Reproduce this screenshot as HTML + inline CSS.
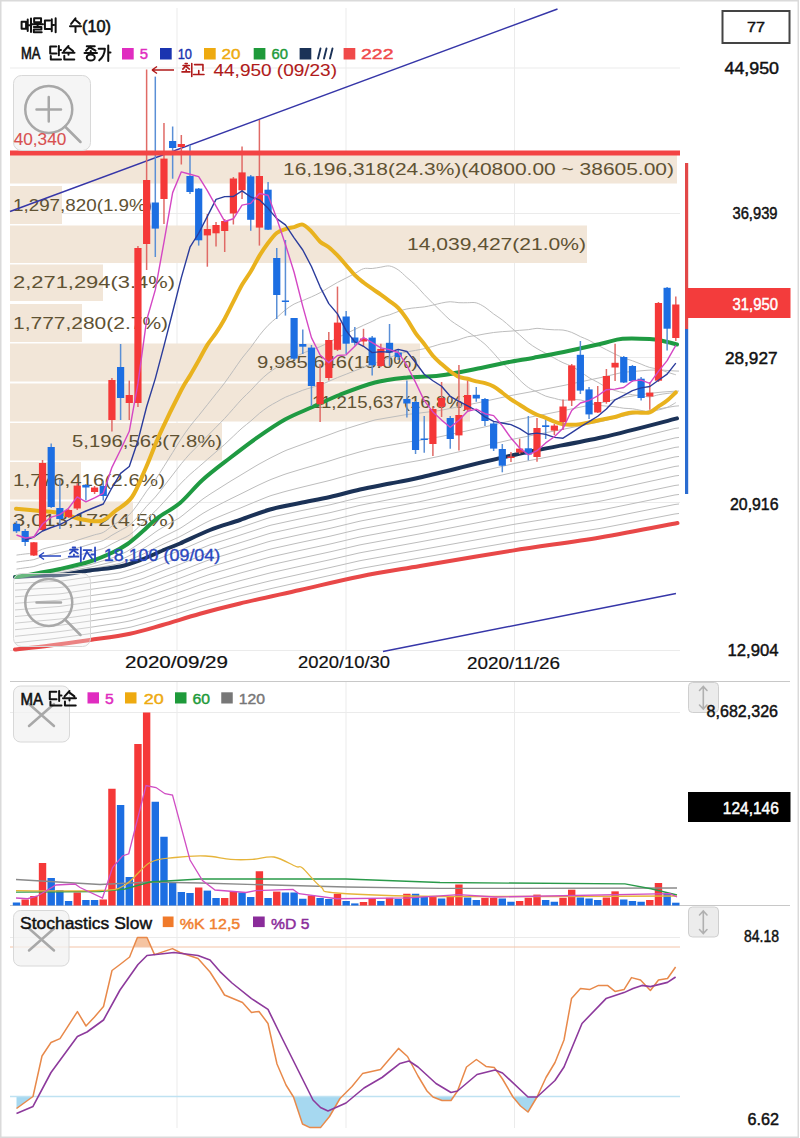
<!DOCTYPE html><html><head><meta charset="utf-8"><style>html,body{margin:0;padding:0;background:#fff;width:800px;height:1138px;overflow:hidden}</style></head><body><svg width="800" height="1138" viewBox="0 0 800 1138" style="display:block;font-family:'Liberation Sans',sans-serif">
<rect x="0" y="0" width="800" height="1138" fill="#fff"/>
<line x1="10" y1="68" x2="680" y2="68" stroke="#ebebeb" stroke-width="1"/>
<line x1="10" y1="213.5" x2="680" y2="213.5" stroke="#ebebeb" stroke-width="1"/>
<line x1="10" y1="357.5" x2="680" y2="357.5" stroke="#ebebeb" stroke-width="1"/>
<line x1="10" y1="502.5" x2="680" y2="502.5" stroke="#ebebeb" stroke-width="1"/>
<line x1="10" y1="650.5" x2="680" y2="650.5" stroke="#ebebeb" stroke-width="1"/>
<line x1="177" y1="8" x2="177" y2="650.5" stroke="#ebebeb" stroke-width="1"/>
<line x1="177" y1="682" x2="177" y2="1128" stroke="#ebebeb" stroke-width="1"/>
<line x1="346" y1="8" x2="346" y2="650.5" stroke="#ebebeb" stroke-width="1"/>
<line x1="346" y1="682" x2="346" y2="1128" stroke="#ebebeb" stroke-width="1"/>
<line x1="514.5" y1="8" x2="514.5" y2="650.5" stroke="#ebebeb" stroke-width="1"/>
<line x1="514.5" y1="682" x2="514.5" y2="1128" stroke="#ebebeb" stroke-width="1"/>
<line x1="10" y1="712.5" x2="680" y2="712.5" stroke="#ebebeb" stroke-width="1"/>
<line x1="10" y1="937.5" x2="680" y2="937.5" stroke="#ebebeb" stroke-width="1"/>
<rect x="10" y="155" width="667" height="28.5" fill="#f2e6d8"/>
<rect x="10" y="186" width="52" height="38" fill="#f2e6d8"/>
<rect x="10" y="225.5" width="577" height="37.5" fill="#f2e6d8"/>
<rect x="10" y="264.5" width="93" height="36.5" fill="#f2e6d8"/>
<rect x="10" y="304" width="72" height="38" fill="#f2e6d8"/>
<rect x="10" y="343.5" width="410" height="38" fill="#f2e6d8"/>
<rect x="10" y="383.5" width="460" height="38" fill="#f2e6d8"/>
<rect x="10" y="423" width="212" height="37.5" fill="#f2e6d8"/>
<rect x="10" y="462" width="71" height="37.5" fill="#f2e6d8"/>
<rect x="10" y="501.5" width="123" height="38.5" fill="#f2e6d8"/>
<text x="283" y="174.75" font-size="17" fill="#5f5233" text-anchor="start" font-weight="normal" textLength="391" lengthAdjust="spacingAndGlyphs" >16,196,318(24.3%)(40800.00 ~ 38605.00)</text>
<text x="13" y="210.5" font-size="17" fill="#5f5233" text-anchor="start" font-weight="normal" textLength="139" lengthAdjust="spacingAndGlyphs" >1,297,820(1.9%)</text>
<text x="407" y="249.75" font-size="17" fill="#5f5233" text-anchor="start" font-weight="normal" textLength="179" lengthAdjust="spacingAndGlyphs" >14,039,427(21.0%)</text>
<text x="13" y="288.25" font-size="17" fill="#5f5233" text-anchor="start" font-weight="normal" textLength="162" lengthAdjust="spacingAndGlyphs" >2,271,294(3.4%)</text>
<text x="13" y="328.5" font-size="17" fill="#5f5233" text-anchor="start" font-weight="normal" textLength="155" lengthAdjust="spacingAndGlyphs" >1,777,280(2.7%)</text>
<text x="257" y="368" font-size="17" fill="#5f5233" text-anchor="start" font-weight="normal" textLength="161" lengthAdjust="spacingAndGlyphs" >9,985,646(15.0%)</text>
<text x="312" y="408" font-size="17" fill="#5f5233" text-anchor="start" font-weight="normal" textLength="157" lengthAdjust="spacingAndGlyphs" >11,215,637(16.8%)</text>
<text x="72" y="447.25" font-size="17" fill="#5f5233" text-anchor="start" font-weight="normal" textLength="150" lengthAdjust="spacingAndGlyphs" >5,196,563(7.8%)</text>
<text x="13" y="486.25" font-size="17" fill="#5f5233" text-anchor="start" font-weight="normal" textLength="152" lengthAdjust="spacingAndGlyphs" >1,776,416(2.6%)</text>
<text x="13" y="526.25" font-size="17" fill="#5f5233" text-anchor="start" font-weight="normal" textLength="162" lengthAdjust="spacingAndGlyphs" >3,013,172(4.5%)</text>
<path d="M15,583.59 L19,583.36 L23,583.12 L27,582.88 L31,582.65 L35,582.41 L39,582.18 L43,581.94 L47,581.76 L51,581.61 L55,581.47 L59,581.32 L63,580.84 L67,580.24 L71,579.65 L75,579.05 L79,578.46 L83,577.86 L87,577.26 L91,576.68 L95,576.14 L99,575.6 L103,575.06 L107,574.52 L111,573.97 L115,573.43 L119,572.89 L123,571.83 L127,570.61 L131,569.37 L135,568.1 L139,566.83 L143,565.51 L147,563.83 L151,562.16 L155,560.49 L159,558.81 L163,557.14 L167,555.51 L171,553.95 L175,552.39 L179,550.82 L183,549.12 L187,547.38 L191,545.63 L195,543.89 L199,542.14 L203,540.41 L207,538.68 L211,537.05 L215,535.75 L219,534.44 L223,533.14 L227,531.83 L231,530.53 L235,529.22 L239,527.92 L243,526.58 L247,525.22 L251,523.87 L255,522.51 L259,521.16 L263,519.8 L267,518.45 L271,517.21 L275,516.34 L279,515.48 L283,514.61 L287,513.74 L291,512.87 L295,512 L299,511.13 L303,510.3 L307,509.49 L311,508.68 L315,507.87 L319,507.07 L323,506.26 L327,505.45 L331,504.59 L335,503.6 L339,502.61 L343,501.62 L347,500.63 L351,499.64 L355,498.65 L359,497.66 L363,496.82 L367,496.02 L371,495.23 L375,494.44 L379,493.65 L383,492.86 L387,492.07 L391,491.28 L395,490.49 L399,489.7 L403,488.91 L407,488.12 L411,487.33 L415,486.53 L419,485.74 L423,484.85 L427,483.91 L431,482.98 L435,482.05 L439,481.11 L443,480.18 L447,479.25 L451,478.31 L455,477.38 L459,476.45 L463,475.51 L467,474.58 L471,473.65 L475,472.71 L479,471.78 L483,470.85 L487,469.91 L491,468.98 L495,468.05 L499,467.11 L503,466.18 L507,465.25 L511,464.31 L515,463.38 L519,462.6 L523,461.82 L527,461.04 L531,460.26 L535,459.48 L539,458.69 L543,457.91 L547,457.13 L551,456.35 L555,455.57 L559,454.79 L563,454 L567,453.22 L571,452.44 L575,451.66 L579,450.88 L583,450.1 L587,449.31 L591,448.53 L595,447.75 L599,446.97 L603,446.15 L607,445.17 L611,444.18 L615,443.2 L619,442.21 L623,441.22 L627,440.24 L631,439.25 L635,438.27 L639,437.28 L643,436.3 L647,435.31 L651,434.32 L655,433.34 L659,432.35 L663,431.37 L667,430.38 L671,429.4 L675,428.41 L679,427.91" fill="none" stroke="#bdbdbd" stroke-width="1"/>
<path d="M15,590.18 L19,589.92 L23,589.67 L27,589.41 L31,589.15 L35,588.89 L39,588.64 L43,588.38 L47,588.16 L51,587.99 L55,587.8 L59,587.62 L63,587.12 L67,586.53 L71,585.94 L75,585.35 L79,584.76 L83,584.17 L87,583.58 L91,583 L95,582.45 L99,581.9 L103,581.35 L107,580.8 L111,580.25 L115,579.7 L119,579.15 L123,578.14 L127,576.97 L131,575.78 L135,574.53 L139,573.28 L143,571.98 L147,570.37 L151,568.75 L155,567.14 L159,565.53 L163,563.91 L167,562.33 L171,560.8 L175,559.27 L179,557.75 L183,556.1 L187,554.4 L191,552.71 L195,551.02 L199,549.33 L203,547.66 L207,546.01 L211,544.44 L215,543.16 L219,541.89 L223,540.61 L227,539.33 L231,538.06 L235,536.78 L239,535.5 L243,534.2 L247,532.89 L251,531.58 L255,530.27 L259,528.96 L263,527.65 L267,526.35 L271,525.15 L275,524.27 L279,523.4 L283,522.53 L287,521.65 L291,520.78 L295,519.91 L299,519.04 L303,518.2 L307,517.39 L311,516.57 L315,515.75 L319,514.93 L323,514.11 L327,513.3 L331,512.44 L335,511.45 L339,510.47 L343,509.49 L347,508.51 L351,507.53 L355,506.55 L359,505.56 L363,504.73 L367,503.95 L371,503.17 L375,502.39 L379,501.6 L383,500.82 L387,500.04 L391,499.26 L395,498.48 L399,497.7 L403,496.91 L407,496.13 L411,495.35 L415,494.57 L419,493.79 L423,492.91 L427,492 L431,491.1 L435,490.19 L439,489.28 L443,488.38 L447,487.47 L451,486.57 L455,485.66 L459,484.75 L463,483.85 L467,482.94 L471,482.03 L475,481.13 L479,480.22 L483,479.31 L487,478.41 L491,477.5 L495,476.59 L499,475.69 L503,474.78 L507,473.87 L511,472.97 L515,472.07 L519,471.3 L523,470.54 L527,469.78 L531,469.01 L535,468.25 L539,467.49 L543,466.72 L547,465.96 L551,465.2 L555,464.43 L559,463.67 L563,462.91 L567,462.14 L571,461.38 L575,460.62 L579,459.85 L583,459.09 L587,458.33 L591,457.56 L595,456.8 L599,456.04 L603,455.23 L607,454.27 L611,453.31 L615,452.35 L619,451.38 L623,450.42 L627,449.46 L631,448.5 L635,447.54 L639,446.57 L643,445.61 L647,444.65 L651,443.69 L655,442.73 L659,441.76 L663,440.8 L667,439.84 L671,438.88 L675,437.92 L679,437.42" fill="none" stroke="#bdbdbd" stroke-width="1"/>
<path d="M15,596.77 L19,596.49 L23,596.21 L27,595.93 L31,595.65 L35,595.37 L39,595.09 L43,594.81 L47,594.57 L51,594.36 L55,594.14 L59,593.91 L63,593.41 L67,592.83 L71,592.24 L75,591.65 L79,591.07 L83,590.48 L87,589.89 L91,589.31 L95,588.76 L99,588.2 L103,587.64 L107,587.08 L111,586.52 L115,585.96 L119,585.41 L123,584.44 L127,583.33 L131,582.19 L135,580.96 L139,579.73 L143,578.46 L147,576.9 L151,575.35 L155,573.79 L159,572.24 L163,570.68 L167,569.14 L171,567.65 L175,566.16 L179,564.67 L183,563.07 L187,561.43 L191,559.8 L195,558.16 L199,556.52 L203,554.92 L207,553.33 L211,551.83 L215,550.58 L219,549.33 L223,548.08 L227,546.83 L231,545.58 L235,544.33 L239,543.09 L243,541.83 L247,540.56 L251,539.3 L255,538.03 L259,536.77 L263,535.51 L267,534.24 L271,533.08 L275,532.2 L279,531.33 L283,530.45 L287,529.57 L291,528.7 L295,527.82 L299,526.95 L303,526.11 L307,525.28 L311,524.45 L315,523.62 L319,522.8 L323,521.97 L327,521.14 L331,520.28 L335,519.31 L339,518.33 L343,517.36 L347,516.39 L351,515.42 L355,514.44 L359,513.47 L363,512.65 L367,511.87 L371,511.1 L375,510.33 L379,509.56 L383,508.78 L387,508.01 L391,507.24 L395,506.47 L399,505.69 L403,504.92 L407,504.15 L411,503.38 L415,502.6 L419,501.83 L423,500.98 L427,500.1 L431,499.22 L435,498.34 L439,497.46 L443,496.58 L447,495.7 L451,494.82 L455,493.94 L459,493.06 L463,492.18 L467,491.3 L471,490.42 L475,489.54 L479,488.66 L483,487.78 L487,486.9 L491,486.02 L495,485.14 L499,484.26 L503,483.38 L507,482.5 L511,481.62 L515,480.75 L519,480.01 L523,479.26 L527,478.52 L531,477.77 L535,477.03 L539,476.28 L543,475.54 L547,474.79 L551,474.05 L555,473.3 L559,472.56 L563,471.81 L567,471.07 L571,470.32 L575,469.58 L579,468.83 L583,468.09 L587,467.34 L591,466.59 L595,465.85 L599,465.1 L603,464.31 L607,463.37 L611,462.43 L615,461.5 L619,460.56 L623,459.62 L627,458.68 L631,457.74 L635,456.8 L639,455.87 L643,454.93 L647,453.99 L651,453.05 L655,452.11 L659,451.17 L663,450.24 L667,449.3 L671,448.36 L675,447.42 L679,446.93" fill="none" stroke="#bdbdbd" stroke-width="1"/>
<path d="M15,603.36 L19,603.06 L23,602.76 L27,602.46 L31,602.16 L35,601.85 L39,601.55 L43,601.25 L47,600.98 L51,600.74 L55,600.47 L59,600.2 L63,599.7 L67,599.12 L71,598.54 L75,597.95 L79,597.37 L83,596.79 L87,596.21 L91,595.63 L95,595.06 L99,594.5 L103,593.93 L107,593.36 L111,592.8 L115,592.23 L119,591.66 L123,590.74 L127,589.69 L131,588.6 L135,587.39 L139,586.18 L143,584.93 L147,583.44 L151,581.94 L155,580.45 L159,578.95 L163,577.45 L167,575.95 L171,574.5 L175,573.05 L179,571.59 L183,570.04 L187,568.46 L191,566.88 L195,565.3 L199,563.71 L203,562.18 L207,560.66 L211,559.22 L215,558 L219,556.77 L223,555.55 L227,554.33 L231,553.11 L235,551.89 L239,550.67 L243,549.45 L247,548.23 L251,547.01 L255,545.8 L259,544.58 L263,543.36 L267,542.14 L271,541.01 L275,540.13 L279,539.25 L283,538.37 L287,537.49 L291,536.61 L295,535.73 L299,534.86 L303,534.01 L307,533.17 L311,532.34 L315,531.5 L319,530.66 L323,529.83 L327,528.99 L331,528.12 L335,527.16 L339,526.2 L343,525.23 L347,524.27 L351,523.3 L355,522.34 L359,521.38 L363,520.56 L367,519.8 L371,519.04 L375,518.27 L379,517.51 L383,516.75 L387,515.98 L391,515.22 L395,514.45 L399,513.69 L403,512.93 L407,512.16 L411,511.4 L415,510.64 L419,509.87 L423,509.04 L427,508.19 L431,507.34 L435,506.48 L439,505.63 L443,504.78 L447,503.92 L451,503.07 L455,502.22 L459,501.36 L463,500.51 L467,499.66 L471,498.81 L475,497.95 L479,497.1 L483,496.25 L487,495.39 L491,494.54 L495,493.69 L499,492.83 L503,491.98 L507,491.13 L511,490.27 L515,489.44 L519,488.71 L523,487.98 L527,487.26 L531,486.53 L535,485.8 L539,485.08 L543,484.35 L547,483.62 L551,482.89 L555,482.17 L559,481.44 L563,480.71 L567,479.99 L571,479.26 L575,478.53 L579,477.81 L583,477.08 L587,476.35 L591,475.63 L595,474.9 L599,474.17 L603,473.39 L607,472.47 L611,471.56 L615,470.64 L619,469.73 L623,468.82 L627,467.9 L631,466.99 L635,466.07 L639,465.16 L643,464.24 L647,463.33 L651,462.41 L655,461.5 L659,460.59 L663,459.67 L667,458.76 L671,457.84 L675,456.93 L679,456.44" fill="none" stroke="#bdbdbd" stroke-width="1"/>
<path d="M15,609.95 L19,609.63 L23,609.31 L27,608.98 L31,608.66 L35,608.33 L39,608.01 L43,607.69 L47,607.39 L51,607.11 L55,606.81 L59,606.5 L63,605.99 L67,605.41 L71,604.83 L75,604.26 L79,603.68 L83,603.1 L87,602.52 L91,601.95 L95,601.37 L99,600.8 L103,600.22 L107,599.65 L111,599.07 L115,598.5 L119,597.92 L123,597.04 L127,596.05 L131,595.01 L135,593.82 L139,592.63 L143,591.4 L147,589.97 L151,588.53 L155,587.1 L159,585.66 L163,584.22 L167,582.77 L171,581.35 L175,579.93 L179,578.51 L183,577.01 L187,575.49 L191,573.96 L195,572.43 L199,570.9 L203,569.44 L207,567.99 L211,566.61 L215,565.41 L219,564.22 L223,563.03 L227,561.83 L231,560.64 L235,559.45 L239,558.25 L243,557.07 L247,555.9 L251,554.73 L255,553.56 L259,552.38 L263,551.21 L267,550.04 L271,548.94 L275,548.06 L279,547.17 L283,546.29 L287,545.41 L291,544.53 L295,543.65 L299,542.77 L303,541.91 L307,541.07 L311,540.22 L315,539.38 L319,538.53 L323,537.68 L327,536.84 L331,535.97 L335,535.01 L339,534.06 L343,533.1 L347,532.15 L351,531.19 L355,530.24 L359,529.28 L363,528.48 L367,527.72 L371,526.97 L375,526.22 L379,525.46 L383,524.71 L387,523.95 L391,523.2 L395,522.44 L399,521.69 L403,520.93 L407,520.18 L411,519.42 L415,518.67 L419,517.92 L423,517.11 L427,516.28 L431,515.45 L435,514.63 L439,513.8 L443,512.98 L447,512.15 L451,511.32 L455,510.5 L459,509.67 L463,508.84 L467,508.02 L471,507.19 L475,506.37 L479,505.54 L483,504.71 L487,503.89 L491,503.06 L495,502.23 L499,501.41 L503,500.58 L507,499.75 L511,498.93 L515,498.12 L519,497.41 L523,496.7 L527,496 L531,495.29 L535,494.58 L539,493.87 L543,493.16 L547,492.45 L551,491.74 L555,491.04 L559,490.33 L563,489.62 L567,488.91 L571,488.2 L575,487.49 L579,486.78 L583,486.08 L587,485.37 L591,484.66 L595,483.95 L599,483.24 L603,482.47 L607,481.58 L611,480.69 L615,479.79 L619,478.9 L623,478.01 L627,477.12 L631,476.23 L635,475.34 L639,474.45 L643,473.56 L647,472.67 L651,471.78 L655,470.89 L659,470 L663,469.11 L667,468.21 L671,467.32 L675,466.43 L679,465.95" fill="none" stroke="#bdbdbd" stroke-width="1"/>
<path d="M15,616.55 L19,616.2 L23,615.85 L27,615.51 L31,615.16 L35,614.81 L39,614.47 L43,614.12 L47,613.8 L51,613.49 L55,613.14 L59,612.79 L63,612.28 L67,611.7 L71,611.13 L75,610.56 L79,609.98 L83,609.41 L87,608.84 L91,608.26 L95,607.68 L99,607.1 L103,606.51 L107,605.93 L111,605.35 L115,604.76 L119,604.18 L123,603.34 L127,602.41 L131,601.42 L135,600.25 L139,599.08 L143,597.88 L147,596.5 L151,595.13 L155,593.75 L159,592.38 L163,590.99 L167,589.58 L171,588.2 L175,586.82 L179,585.44 L183,583.99 L187,582.51 L191,581.04 L195,579.57 L199,578.1 L203,576.69 L207,575.32 L211,573.99 L215,572.83 L219,571.66 L223,570.5 L227,569.33 L231,568.17 L235,567 L239,565.84 L243,564.7 L247,563.57 L251,562.45 L255,561.32 L259,560.19 L263,559.06 L267,557.94 L271,556.87 L275,555.98 L279,555.1 L283,554.22 L287,553.33 L291,552.45 L295,551.56 L299,550.68 L303,549.81 L307,548.96 L311,548.1 L315,547.25 L319,546.4 L323,545.54 L327,544.69 L331,543.81 L335,542.86 L339,541.92 L343,540.97 L347,540.03 L351,539.08 L355,538.14 L359,537.19 L363,536.4 L367,535.65 L371,534.9 L375,534.16 L379,533.41 L383,532.67 L387,531.92 L391,531.18 L395,530.43 L399,529.69 L403,528.94 L407,528.2 L411,527.45 L415,526.7 L419,525.96 L423,525.17 L427,524.37 L431,523.57 L435,522.77 L439,521.97 L443,521.17 L447,520.38 L451,519.58 L455,518.78 L459,517.98 L463,517.18 L467,516.38 L471,515.58 L475,514.78 L479,513.98 L483,513.18 L487,512.38 L491,511.58 L495,510.78 L499,509.98 L503,509.18 L507,508.38 L511,507.58 L515,506.8 L519,506.11 L523,505.42 L527,504.73 L531,504.04 L535,503.35 L539,502.66 L543,501.97 L547,501.28 L551,500.59 L555,499.9 L559,499.21 L563,498.52 L567,497.83 L571,497.14 L575,496.45 L579,495.76 L583,495.07 L587,494.38 L591,493.69 L595,493 L599,492.31 L603,491.55 L607,490.68 L611,489.81 L615,488.94 L619,488.08 L623,487.21 L627,486.34 L631,485.48 L635,484.61 L639,483.74 L643,482.88 L647,482.01 L651,481.14 L655,480.27 L659,479.41 L663,478.54 L667,477.67 L671,476.81 L675,475.94 L679,475.45" fill="none" stroke="#bdbdbd" stroke-width="1"/>
<path d="M15,623.14 L19,622.77 L23,622.4 L27,622.03 L31,621.66 L35,621.29 L39,620.93 L43,620.56 L47,620.21 L51,619.86 L55,619.47 L59,619.09 L63,618.56 L67,617.99 L71,617.43 L75,616.86 L79,616.29 L83,615.72 L87,615.15 L91,614.58 L95,613.99 L99,613.4 L103,612.8 L107,612.21 L111,611.62 L115,611.03 L119,610.44 L123,609.64 L127,608.77 L131,607.84 L135,606.68 L139,605.53 L143,604.35 L147,603.04 L151,601.72 L155,600.41 L159,599.09 L163,597.77 L167,596.4 L171,595.05 L175,593.7 L179,592.36 L183,590.96 L187,589.54 L191,588.12 L195,586.7 L199,585.29 L203,583.95 L207,582.64 L211,581.38 L215,580.24 L219,579.11 L223,577.97 L227,576.83 L231,575.69 L235,574.56 L239,573.42 L243,572.32 L247,571.24 L251,570.16 L255,569.08 L259,568 L263,566.92 L267,565.83 L271,564.8 L275,563.91 L279,563.03 L283,562.14 L287,561.25 L291,560.36 L295,559.47 L299,558.59 L303,557.72 L307,556.85 L311,555.99 L315,555.12 L319,554.26 L323,553.4 L327,552.53 L331,551.65 L335,550.72 L339,549.78 L343,548.84 L347,547.91 L351,546.97 L355,546.03 L359,545.1 L363,544.31 L367,543.57 L371,542.84 L375,542.1 L379,541.37 L383,540.63 L387,539.89 L391,539.16 L395,538.42 L399,537.68 L403,536.95 L407,536.21 L411,535.47 L415,534.74 L419,534 L423,533.24 L427,532.47 L431,531.69 L435,530.92 L439,530.15 L443,529.37 L447,528.6 L451,527.83 L455,527.06 L459,526.28 L463,525.51 L467,524.74 L471,523.96 L475,523.19 L479,522.42 L483,521.65 L487,520.87 L491,520.1 L495,519.33 L499,518.55 L503,517.78 L507,517.01 L511,516.24 L515,515.49 L519,514.82 L523,514.15 L527,513.47 L531,512.8 L535,512.13 L539,511.46 L543,510.79 L547,510.11 L551,509.44 L555,508.77 L559,508.1 L563,507.43 L567,506.75 L571,506.08 L575,505.41 L579,504.74 L583,504.07 L587,503.39 L591,502.72 L595,502.05 L599,501.38 L603,500.62 L607,499.78 L611,498.94 L615,498.09 L619,497.25 L623,496.41 L627,495.56 L631,494.72 L635,493.88 L639,493.03 L643,492.19 L647,491.35 L651,490.5 L655,489.66 L659,488.82 L663,487.97 L667,487.13 L671,486.29 L675,485.44 L679,484.96" fill="none" stroke="#bdbdbd" stroke-width="1"/>
<path d="M15,629.73 L19,629.34 L23,628.95 L27,628.56 L31,628.16 L35,627.77 L39,627.38 L43,626.99 L47,626.62 L51,626.24 L55,625.81 L59,625.38 L63,624.85 L67,624.29 L71,623.72 L75,623.16 L79,622.6 L83,622.03 L87,621.47 L91,620.9 L95,620.3 L99,619.7 L103,619.1 L107,618.5 L111,617.9 L115,617.3 L119,616.7 L123,615.94 L127,615.13 L131,614.25 L135,613.11 L139,611.98 L143,610.83 L147,609.57 L151,608.32 L155,607.06 L159,605.8 L163,604.54 L167,603.21 L171,601.9 L175,600.59 L179,599.28 L183,597.93 L187,596.57 L191,595.2 L195,593.84 L199,592.48 L203,591.21 L207,589.97 L211,588.77 L215,587.66 L219,586.55 L223,585.44 L227,584.33 L231,583.22 L235,582.11 L239,581 L243,579.95 L247,578.91 L251,577.88 L255,576.84 L259,575.8 L263,574.77 L267,573.73 L271,572.73 L275,571.84 L279,570.95 L283,570.06 L287,569.17 L291,568.28 L295,567.39 L299,566.5 L303,565.62 L307,564.75 L311,563.87 L315,563 L319,562.13 L323,561.25 L327,560.38 L331,559.5 L335,558.57 L339,557.64 L343,556.71 L347,555.79 L351,554.86 L355,553.93 L359,553 L363,552.23 L367,551.5 L371,550.77 L375,550.05 L379,549.32 L383,548.59 L387,547.86 L391,547.14 L395,546.41 L399,545.68 L403,544.95 L407,544.23 L411,543.5 L415,542.77 L419,542.05 L423,541.3 L427,540.56 L431,539.81 L435,539.07 L439,538.32 L443,537.57 L447,536.83 L451,536.08 L455,535.33 L459,534.59 L463,533.84 L467,533.1 L471,532.35 L475,531.6 L479,530.86 L483,530.11 L487,529.37 L491,528.62 L495,527.87 L499,527.13 L503,526.38 L507,525.64 L511,524.89 L515,524.17 L519,523.52 L523,522.87 L527,522.21 L531,521.56 L535,520.9 L539,520.25 L543,519.6 L547,518.94 L551,518.29 L555,517.64 L559,516.98 L563,516.33 L567,515.67 L571,515.02 L575,514.37 L579,513.71 L583,513.06 L587,512.41 L591,511.75 L595,511.1 L599,510.45 L603,509.7 L607,508.88 L611,508.06 L615,507.24 L619,506.42 L623,505.6 L627,504.79 L631,503.97 L635,503.15 L639,502.33 L643,501.51 L647,500.69 L651,499.87 L655,499.05 L659,498.23 L663,497.41 L667,496.59 L671,495.77 L675,494.95 L679,494.47" fill="none" stroke="#bdbdbd" stroke-width="1"/>
<path d="M15,636.32 L19,635.91 L23,635.49 L27,635.08 L31,634.67 L35,634.25 L39,633.84 L43,633.43 L47,633.03 L51,632.61 L55,632.14 L59,631.67 L63,631.14 L67,630.58 L71,630.02 L75,629.46 L79,628.9 L83,628.34 L87,627.78 L91,627.21 L95,626.6 L99,625.99 L103,625.39 L107,624.78 L111,624.17 L115,623.56 L119,622.95 L123,622.24 L127,621.5 L131,620.66 L135,619.54 L139,618.43 L143,617.3 L147,616.11 L151,614.91 L155,613.71 L159,612.52 L163,611.31 L167,610.02 L171,608.75 L175,607.48 L179,606.2 L183,604.9 L187,603.6 L191,602.29 L195,600.98 L199,599.67 L203,598.47 L207,597.3 L211,596.16 L215,595.07 L219,593.99 L223,592.91 L227,591.83 L231,590.75 L235,589.67 L239,588.59 L243,587.57 L247,586.58 L251,585.59 L255,584.6 L259,583.61 L263,582.62 L267,581.63 L271,580.66 L275,579.77 L279,578.88 L283,577.98 L287,577.09 L291,576.19 L295,575.3 L299,574.41 L303,573.52 L307,572.64 L311,571.76 L315,570.88 L319,569.99 L323,569.11 L327,568.23 L331,567.34 L335,566.42 L339,565.5 L343,564.58 L347,563.67 L351,562.75 L355,561.83 L359,560.91 L363,560.14 L367,559.42 L371,558.71 L375,557.99 L379,557.27 L383,556.55 L387,555.83 L391,555.12 L395,554.4 L399,553.68 L403,552.96 L407,552.24 L411,551.52 L415,550.81 L419,550.09 L423,549.37 L427,548.65 L431,547.93 L435,547.21 L439,546.49 L443,545.77 L447,545.05 L451,544.33 L455,543.61 L459,542.89 L463,542.18 L467,541.46 L471,540.74 L475,540.02 L479,539.3 L483,538.58 L487,537.86 L491,537.14 L495,536.42 L499,535.7 L503,534.98 L507,534.26 L511,533.54 L515,532.86 L519,532.22 L523,531.59 L527,530.95 L531,530.32 L535,529.68 L539,529.04 L543,528.41 L547,527.77 L551,527.14 L555,526.5 L559,525.87 L563,525.23 L567,524.6 L571,523.96 L575,523.33 L579,522.69 L583,522.06 L587,521.42 L591,520.78 L595,520.15 L599,519.51 L603,518.78 L607,517.99 L611,517.19 L615,516.39 L619,515.6 L623,514.8 L627,514.01 L631,513.21 L635,512.41 L639,511.62 L643,510.82 L647,510.03 L651,509.23 L655,508.44 L659,507.64 L663,506.84 L667,506.05 L671,505.25 L675,504.46 L679,503.98" fill="none" stroke="#bdbdbd" stroke-width="1"/>
<path d="M15,642.91 L19,642.47 L23,642.04 L27,641.6 L31,641.17 L35,640.73 L39,640.3 L43,639.86 L47,639.43 L51,638.99 L55,638.48 L59,637.97 L63,637.43 L67,636.87 L71,636.32 L75,635.76 L79,635.21 L83,634.65 L87,634.1 L91,633.53 L95,632.91 L99,632.29 L103,631.68 L107,631.06 L111,630.44 L115,629.83 L119,629.21 L123,628.54 L127,627.86 L131,627.07 L135,625.97 L139,624.88 L143,623.78 L147,622.64 L151,621.5 L155,620.37 L159,619.23 L163,618.08 L167,616.84 L171,615.6 L175,614.36 L179,613.13 L183,611.88 L187,610.62 L191,609.37 L195,608.11 L199,606.86 L203,605.72 L207,604.63 L211,603.54 L215,602.49 L219,601.44 L223,600.38 L227,599.33 L231,598.28 L235,597.23 L239,596.17 L243,595.2 L247,594.25 L251,593.31 L255,592.36 L259,591.42 L263,590.47 L267,589.53 L271,588.59 L275,587.7 L279,586.8 L283,585.9 L287,585.01 L291,584.11 L295,583.21 L299,582.32 L303,581.42 L307,580.53 L311,579.64 L315,578.75 L319,577.86 L323,576.97 L327,576.08 L331,575.18 L335,574.27 L339,573.36 L343,572.45 L347,571.55 L351,570.64 L355,569.73 L359,568.82 L363,568.06 L367,567.35 L371,566.64 L375,565.93 L379,565.22 L383,564.51 L387,563.8 L391,563.1 L395,562.39 L399,561.68 L403,560.97 L407,560.26 L411,559.55 L415,558.84 L419,558.13 L423,557.44 L427,556.74 L431,556.05 L435,555.36 L439,554.66 L443,553.97 L447,553.28 L451,552.59 L455,551.89 L459,551.2 L463,550.51 L467,549.82 L471,549.12 L475,548.43 L479,547.74 L483,547.04 L487,546.35 L491,545.66 L495,544.97 L499,544.27 L503,543.58 L507,542.89 L511,542.2 L515,541.54 L519,540.92 L523,540.31 L527,539.69 L531,539.07 L535,538.46 L539,537.84 L543,537.22 L547,536.6 L551,535.99 L555,535.37 L559,534.75 L563,534.14 L567,533.52 L571,532.9 L575,532.28 L579,531.67 L583,531.05 L587,530.43 L591,529.82 L595,529.2 L599,528.58 L603,527.86 L607,527.09 L611,526.32 L615,525.54 L619,524.77 L623,524 L627,523.23 L631,522.46 L635,521.68 L639,520.91 L643,520.14 L647,519.37 L651,518.59 L655,517.82 L659,517.05 L663,516.28 L667,515.51 L671,514.73 L675,513.96 L679,513.49" fill="none" stroke="#bdbdbd" stroke-width="1"/>
<path d="M15,577 L19,576.59 L23,576.07 L27,575.55 L31,575.02 L35,574.5 L39,573.98 L43,573.41 L47,572.87 L51,572.34 L55,571.82 L59,571.29 L63,570.52 L67,569.66 L71,568.81 L75,567.95 L79,567.09 L83,566.24 L87,565.38 L91,564.44 L95,563.22 L99,562 L103,560.79 L107,559.57 L111,558.36 L115,556.87 L119,555.23 L123,553.38 L127,551.47 L131,548.96 L135,546.36 L139,543.76 L143,541.12 L147,538.2 L151,535.27 L155,532.34 L159,529.64 L163,527.31 L167,525 L171,522.72 L175,520.43 L179,518.15 L183,515.13 L187,511.87 L191,508.6 L195,505.34 L199,502.07 L203,498.88 L207,496.18 L211,493.53 L215,491 L219,488.47 L223,485.94 L227,483.42 L231,480.92 L235,478.52 L239,476.13 L243,473.71 L247,471.29 L251,468.87 L255,466.44 L259,464.12 L263,461.95 L267,459.78 L271,457.65 L275,455.68 L279,453.7 L283,451.72 L287,449.99 L291,448.52 L295,447.04 L299,445.57 L303,444.11 L307,442.66 L311,441.2 L315,439.77 L319,438.34 L323,436.91 L327,435.48 L331,434.04 L335,432.54 L339,431.04 L343,429.72 L347,428.46 L351,427.21 L355,425.95 L359,424.69 L363,423.49 L367,422.31 L371,421.12 L375,419.94 L379,419.26 L383,418.58 L387,417.89 L391,417.21 L395,416.53 L399,415.85 L403,415.17 L407,414.49 L411,414.01 L415,413.56 L419,413.12 L423,412.63 L427,412.13 L431,411.62 L435,411.12 L439,410.62 L443,409.88 L447,409.07 L451,408.25 L455,407.44 L459,406.63 L463,405.81 L467,405 L471,404.18 L475,403.37 L479,402.56 L483,401.7 L487,400.81 L491,399.92 L495,399.03 L499,398.14 L503,397.24 L507,396.35 L511,395.54 L515,394.75 L519,394.01 L523,393.28 L527,392.54 L531,391.8 L535,391.06 L539,390.28 L543,389.5 L547,388.72 L551,387.94 L555,387.16 L559,386.39 L563,385.61 L567,384.77 L571,383.91 L575,383.06 L579,382.2 L583,381.35 L587,380.49 L591,379.64 L595,378.78 L599,377.93 L603,377.05 L607,376.09 L611,375.13 L615,374.17 L619,373.21 L623,372.33 L627,371.99 L631,371.65 L635,371.31 L639,370.97 L643,370.63 L647,370.29 L651,370.06 L655,370.09 L659,370.11 L663,370.14 L667,370.41 L671,370.69 L675,370.97 L679,371.1" fill="none" stroke="#bdbdbd" stroke-width="1"/>
<path d="M15,577 L19,576.67 L23,576.28 L27,575.89 L31,575.5 L35,575.11 L39,574.71 L43,574.3 L47,573.91 L51,573.57 L55,573.22 L59,572.87 L63,572.22 L67,571.47 L71,570.72 L75,569.97 L79,569.23 L83,568.48 L87,567.73 L91,566.94 L95,566.01 L99,565.08 L103,564.15 L107,563.23 L111,562.3 L115,561.22 L119,560.04 L123,558.51 L127,556.86 L131,554.86 L135,552.82 L139,550.77 L143,548.68 L147,546.26 L151,543.83 L155,541.41 L159,539.11 L163,537.03 L167,535 L171,533 L175,531.01 L179,529.01 L183,526.53 L187,523.88 L191,521.24 L195,518.59 L199,515.94 L203,513.34 L207,511.02 L211,508.77 L215,506.75 L219,504.73 L223,502.7 L227,500.68 L231,498.67 L235,496.72 L239,494.78 L243,492.8 L247,490.8 L251,488.81 L255,486.82 L259,484.89 L263,483.04 L267,481.2 L271,479.44 L275,477.93 L279,476.42 L283,474.91 L287,473.54 L291,472.32 L295,471.11 L299,469.89 L303,468.7 L307,467.52 L311,466.35 L315,465.18 L319,464.01 L323,462.85 L327,461.69 L331,460.49 L335,459.2 L339,457.91 L343,456.73 L347,455.58 L351,454.44 L355,453.29 L359,452.14 L363,451.09 L367,450.06 L371,449.04 L375,448.02 L379,447.29 L383,446.56 L387,445.82 L391,445.09 L395,444.36 L399,443.63 L403,442.9 L407,442.17 L411,441.55 L415,440.96 L419,440.36 L423,439.69 L427,439 L431,438.3 L435,437.61 L439,436.91 L443,436.08 L447,435.2 L451,434.33 L455,433.45 L459,432.58 L463,431.7 L467,430.83 L471,429.95 L475,429.08 L479,428.2 L483,427.3 L487,426.38 L491,425.46 L495,424.54 L499,423.62 L503,422.7 L507,421.78 L511,420.9 L515,420.04 L519,419.28 L523,418.51 L527,417.75 L531,416.99 L535,416.22 L539,415.43 L543,414.64 L547,413.86 L551,413.07 L555,412.28 L559,411.49 L563,410.71 L567,409.88 L571,409.05 L575,408.22 L579,407.39 L583,406.56 L587,405.72 L591,404.89 L595,404.06 L599,403.23 L603,402.37 L607,401.39 L611,400.41 L615,399.43 L619,398.45 L623,397.52 L627,396.89 L631,396.27 L635,395.65 L639,395.03 L643,394.4 L647,393.78 L651,393.22 L655,392.81 L659,392.4 L663,391.99 L667,391.72 L671,391.46 L675,391.19 L679,391.06" fill="none" stroke="#bdbdbd" stroke-width="1"/>
<path d="M15,577 L19,576.73 L23,576.44 L27,576.14 L31,575.85 L35,575.55 L39,575.26 L43,574.95 L47,574.69 L51,574.47 L55,574.25 L59,574.03 L63,573.48 L67,572.81 L71,572.14 L75,571.48 L79,570.81 L83,570.14 L87,569.47 L91,568.79 L95,568.08 L99,567.36 L103,566.65 L107,565.93 L111,565.22 L115,564.43 L119,563.6 L123,562.31 L127,560.85 L131,559.24 L135,557.6 L139,555.96 L143,554.28 L147,552.23 L151,550.17 L155,548.12 L159,546.13 L163,544.24 L167,542.4 L171,540.62 L175,538.84 L179,537.06 L183,534.97 L187,532.78 L191,530.59 L195,528.41 L199,526.22 L203,524.05 L207,522.01 L211,520.07 L215,518.42 L219,516.77 L223,515.12 L227,513.46 L231,511.82 L235,510.21 L239,508.59 L243,506.93 L247,505.26 L251,503.59 L255,501.92 L259,500.27 L263,498.67 L267,497.06 L271,495.57 L275,494.41 L279,493.25 L283,492.08 L287,490.99 L291,489.96 L295,488.93 L299,487.9 L303,486.92 L307,485.94 L311,484.97 L315,484 L319,483.03 L323,482.07 L327,481.1 L331,480.09 L335,478.96 L339,477.83 L343,476.74 L347,475.67 L351,474.61 L355,473.54 L359,472.47 L363,471.53 L367,470.62 L371,469.72 L375,468.82 L379,468.05 L383,467.28 L387,466.51 L391,465.75 L395,464.98 L399,464.21 L403,463.44 L407,462.67 L411,461.96 L415,461.25 L419,460.55 L423,459.74 L427,458.9 L431,458.06 L435,457.22 L439,456.39 L443,455.49 L447,454.56 L451,453.64 L455,452.72 L459,451.8 L463,450.88 L467,449.96 L471,449.04 L475,448.12 L479,447.19 L483,446.26 L487,445.32 L491,444.38 L495,443.44 L499,442.49 L503,441.55 L507,440.61 L511,439.69 L515,438.77 L519,437.99 L523,437.21 L527,436.43 L531,435.64 L535,434.86 L539,434.06 L543,433.27 L547,432.47 L551,431.68 L555,430.89 L559,430.09 L563,429.3 L567,428.49 L571,427.67 L575,426.86 L579,426.04 L583,425.23 L587,424.41 L591,423.6 L595,422.78 L599,421.97 L603,421.13 L607,420.13 L611,419.14 L615,418.14 L619,417.15 L623,416.17 L627,415.34 L631,414.51 L635,413.68 L639,412.84 L643,412.01 L647,411.18 L651,410.38 L655,409.64 L659,408.91 L663,408.17 L667,407.51 L671,406.84 L675,406.17 L679,405.84" fill="none" stroke="#bdbdbd" stroke-width="1"/>
<path d="M16.5,555.11 C17.95,554.92 22.28,554.34 25.18,553.96 C28.07,553.59 30.96,553.67 33.85,552.87 C36.74,552.07 39.63,550.15 42.53,549.16 C45.42,548.18 48.31,547.62 51.2,546.96 C54.09,546.29 56.98,545.82 59.88,545.18 C62.77,544.55 65.66,543.95 68.55,543.14 C71.44,542.33 74.33,541.23 77.23,540.3 C80.12,539.37 83.01,538.47 85.9,537.56 C88.79,536.64 91.68,535.69 94.58,534.83 C97.47,533.96 100.36,533.85 103.25,532.39 C106.14,530.94 109.03,528.1 111.93,526.11 C114.82,524.12 117.71,522.35 120.6,520.44 C123.49,518.54 126.38,517.42 129.28,514.69 C132.17,511.96 135.06,507.97 137.95,504.05 C140.84,500.13 143.73,495.18 146.62,491.16 C149.52,487.14 152.41,484.05 155.3,479.91 C158.19,475.78 161.08,470.93 163.98,466.37 C166.87,461.8 169.76,457.14 172.65,452.5 C175.54,447.86 178.43,442.92 181.33,438.55 C184.22,434.18 187.11,430.08 190,426.26 C192.89,422.44 195.78,419.23 198.68,415.64 C201.57,412.06 204.46,408.38 207.35,404.73 C210.24,401.09 213.13,397.44 216.03,393.78 C218.92,390.13 221.81,386.68 224.7,382.8 C227.59,378.92 230.48,374.62 233.38,370.51 C236.27,366.4 239.16,361.97 242.05,358.13 C244.94,354.29 247.83,351.24 250.73,347.45 C253.62,343.67 256.51,339.12 259.4,335.44 C262.29,331.75 265.18,328.3 268.08,325.33 C270.97,322.36 273.86,320.21 276.75,317.64 C279.64,315.06 282.53,312.15 285.43,309.88 C288.32,307.62 291.21,305.62 294.1,304.06 C296.99,302.5 299.88,301.73 302.78,300.53 C305.67,299.33 308.56,298.17 311.45,296.87 C314.34,295.56 317.23,294.27 320.12,292.7 C323.02,291.12 325.91,289.15 328.8,287.44 C331.69,285.72 334.58,283.98 337.48,282.41 C340.37,280.83 343.26,279.48 346.15,278.01 C349.04,276.53 351.93,275.11 354.83,273.56 C357.72,272 360.61,269.5 363.5,268.66 C366.39,267.81 369.28,268.74 372.18,268.49 C375.07,268.24 377.96,267.56 380.85,267.15 C383.74,266.73 386.63,265.54 389.53,265.99 C392.42,266.44 395.31,267.93 398.2,269.84 C401.09,271.76 403.98,274.95 406.88,277.49 C409.77,280.02 412.66,282.18 415.55,285.03 C418.44,287.87 421.33,291.49 424.23,294.54 C427.12,297.6 430.01,300.46 432.9,303.35 C435.79,306.25 438.68,309.1 441.58,311.91 C444.47,314.72 447.36,317.85 450.25,320.21 C453.14,322.58 456.03,324.18 458.93,326.09 C461.82,328 464.71,329.77 467.6,331.67 C470.49,333.57 473.38,335.4 476.28,337.48 C479.17,339.57 482.06,341.56 484.95,344.17 C487.84,346.79 490.73,350.06 493.63,353.2 C496.52,356.33 499.41,360.04 502.3,362.99 C505.19,365.93 508.08,368.05 510.98,370.89 C513.87,373.72 516.76,377.21 519.65,379.98 C522.54,382.74 525.43,385.49 528.33,387.48 C531.22,389.47 534.11,390.48 537,391.91 C539.89,393.35 542.78,395.01 545.68,396.08 C548.57,397.15 551.46,397.61 554.35,398.32 C557.24,399.02 560.13,400.09 563.03,400.31 C565.92,400.53 568.81,399.69 571.7,399.63 C574.59,399.56 577.48,399.45 580.38,399.91 C583.27,400.37 586.16,401.54 589.05,402.39 C591.94,403.25 594.83,404.42 597.73,405.04 C600.62,405.66 603.51,405.83 606.4,406.12 C609.29,406.41 612.18,406.43 615.08,406.78 C617.97,407.14 620.86,407.92 623.75,408.25 C626.64,408.58 629.53,408.41 632.43,408.77 C635.32,409.13 638.21,409.91 641.1,410.41 C643.99,410.9 646.88,411.82 649.78,411.74 C652.67,411.67 655.56,410.66 658.45,409.94 C661.34,409.23 664.23,408.67 667.12,407.45 C670.02,406.23 674.35,403.41 675.8,402.6" fill="none" stroke="#bdbdbd" stroke-width="1"/>
<path d="M16.5,562.09 C17.95,561.88 22.28,561.26 25.18,560.85 C28.07,560.44 30.96,560.37 33.85,559.64 C36.74,558.91 39.63,557.34 42.53,556.46 C45.42,555.59 48.31,555.03 51.2,554.4 C54.09,553.76 56.98,553.26 59.88,552.64 C62.77,552.01 65.66,551.42 68.55,550.65 C71.44,549.89 74.33,548.91 77.23,548.05 C80.12,547.19 83.01,546.35 85.9,545.49 C88.79,544.63 91.68,543.74 94.58,542.91 C97.47,542.08 100.36,541.81 103.25,540.52 C106.14,539.24 109.03,536.91 111.93,535.21 C114.82,533.51 117.71,531.97 120.6,530.33 C123.49,528.68 126.38,527.62 129.28,525.34 C132.17,523.06 135.06,519.84 137.95,516.66 C140.84,513.48 143.73,509.52 146.62,506.26 C149.52,502.99 152.41,500.42 155.3,497.06 C158.19,493.71 161.08,489.81 163.98,486.12 C166.87,482.43 169.76,478.68 172.65,474.94 C175.54,471.2 178.43,467.23 181.33,463.69 C184.22,460.14 187.11,456.81 190,453.69 C192.89,450.57 195.78,447.91 198.68,444.98 C201.57,442.04 204.46,439.05 207.35,436.08 C210.24,433.12 213.13,430.16 216.03,427.2 C218.92,424.25 221.81,421.46 224.7,418.36 C227.59,415.26 230.48,411.85 233.38,408.6 C236.27,405.35 239.16,401.88 242.05,398.86 C244.94,395.83 247.83,393.42 250.73,390.47 C253.62,387.51 256.51,384 259.4,381.15 C262.29,378.3 265.18,375.65 268.08,373.35 C270.97,371.04 273.86,369.28 276.75,367.33 C279.64,365.38 282.53,363.28 285.43,361.65 C288.32,360.01 291.21,358.92 294.1,357.51 C296.99,356.09 299.88,354.44 302.78,353.18 C305.67,351.92 308.56,351.02 311.45,349.93 C314.34,348.85 317.23,347.92 320.12,346.66 C323.02,345.4 325.91,343.88 328.8,342.39 C331.69,340.89 334.58,339.18 337.48,337.71 C340.37,336.24 343.26,334.96 346.15,333.58 C349.04,332.2 351.93,330.81 354.83,329.43 C357.72,328.04 360.61,326.58 363.5,325.25 C366.39,323.91 369.28,322.78 372.18,321.42 C375.07,320.07 377.96,318.22 380.85,317.12 C383.74,316.02 386.63,315.77 389.53,314.83 C392.42,313.89 395.31,312.47 398.2,311.49 C401.09,310.51 403.98,309.58 406.88,308.95 C409.77,308.33 412.66,308.1 415.55,307.75 C418.44,307.4 421.33,307.3 424.23,306.86 C427.12,306.42 430.01,305.74 432.9,305.1 C435.79,304.46 438.68,303.58 441.58,303.02 C444.47,302.46 447.36,301.78 450.25,301.73 C453.14,301.67 456.03,302.54 458.93,302.7 C461.82,302.87 464.71,302.68 467.6,302.71 C470.49,302.73 473.38,302.1 476.28,302.86 C479.17,303.61 482.06,305.37 484.95,307.23 C487.84,309.08 490.73,311.86 493.63,313.97 C496.52,316.09 499.41,317.69 502.3,319.93 C505.19,322.16 508.08,324.89 510.98,327.39 C513.87,329.89 516.76,332.37 519.65,334.92 C522.54,337.47 525.43,340.41 528.33,342.69 C531.22,344.97 534.11,346.83 537,348.6 C539.89,350.36 542.78,351.67 545.68,353.27 C548.57,354.87 551.46,356.61 554.35,358.18 C557.24,359.76 560.13,361.37 563.03,362.72 C565.92,364.08 568.81,364.85 571.7,366.34 C574.59,367.82 577.48,369.75 580.38,371.64 C583.27,373.53 586.16,375.92 589.05,377.69 C591.94,379.46 594.83,380.65 597.73,382.24 C600.62,383.84 603.51,385.86 606.4,387.24 C609.29,388.63 612.18,389.65 615.08,390.57 C617.97,391.49 620.86,392.07 623.75,392.76 C626.64,393.45 629.53,394.24 632.43,394.73 C635.32,395.23 638.21,395.36 641.1,395.72 C643.99,396.08 646.88,397.02 649.78,396.87 C652.67,396.71 655.56,395.36 658.45,394.79 C661.34,394.22 664.23,393.83 667.12,393.46 C670.02,393.09 674.35,392.72 675.8,392.57" fill="none" stroke="#bdbdbd" stroke-width="1"/>
<path d="M16.5,569.09 C17.95,568.88 22.28,568.23 25.18,567.81 C28.07,567.38 30.96,567.23 33.85,566.54 C36.74,565.86 39.63,564.5 42.53,563.7 C45.42,562.9 48.31,562.35 51.2,561.73 C54.09,561.12 56.98,560.61 59.88,560.01 C62.77,559.4 65.66,558.81 68.55,558.09 C71.44,557.37 74.33,556.47 77.23,555.67 C80.12,554.87 83.01,554.07 85.9,553.27 C88.79,552.46 91.68,551.62 94.58,550.83 C97.47,550.05 100.36,549.7 103.25,548.54 C106.14,547.38 109.03,545.39 111.93,543.89 C114.82,542.39 117.71,541.02 120.6,539.56 C123.49,538.1 126.38,537.11 129.28,535.13 C132.17,533.16 135.06,530.43 137.95,527.73 C140.84,525.03 143.73,521.71 146.62,518.94 C149.52,516.17 152.41,513.95 155.3,511.11 C158.19,508.26 161.08,504.98 163.98,501.86 C166.87,498.75 169.76,495.57 172.65,492.42 C175.54,489.26 178.43,485.92 181.33,482.92 C184.22,479.92 187.11,477.09 190,474.44 C192.89,471.78 195.78,469.49 198.68,466.99 C201.57,464.49 204.46,461.93 207.35,459.41 C210.24,456.89 213.13,454.38 216.03,451.87 C218.92,449.37 221.81,447 224.7,444.39 C227.59,441.78 230.48,438.93 233.38,436.21 C236.27,433.5 239.16,430.61 242.05,428.08 C244.94,425.56 247.83,423.53 250.73,421.07 C253.62,418.62 256.51,415.73 259.4,413.36 C262.29,411 265.18,408.81 268.08,406.9 C270.97,404.99 273.86,403.53 276.75,401.91 C279.64,400.3 282.53,398.57 285.43,397.21 C288.32,395.86 291.21,394.94 294.1,393.78 C296.99,392.61 299.88,391.26 302.78,390.22 C305.67,389.18 308.56,388.44 311.45,387.54 C314.34,386.65 317.23,385.88 320.12,384.86 C323.02,383.83 325.91,382.59 328.8,381.37 C331.69,380.16 334.58,378.76 337.48,377.57 C340.37,376.37 343.26,375.32 346.15,374.19 C349.04,373.06 351.93,371.94 354.83,370.79 C357.72,369.64 360.61,368.37 363.5,367.28 C366.39,366.2 369.28,365.34 372.18,364.28 C375.07,363.22 377.96,362.03 380.85,360.91 C383.74,359.8 386.63,358.68 389.53,357.58 C392.42,356.48 395.31,355.25 398.2,354.3 C401.09,353.36 403.98,352.56 406.88,351.92 C409.77,351.27 412.66,350.96 415.55,350.43 C418.44,349.89 421.33,349.39 424.23,348.71 C427.12,348.04 430.01,347.18 432.9,346.36 C435.79,345.53 438.68,344.48 441.58,343.77 C444.47,343.05 447.36,342.75 450.25,342.06 C453.14,341.37 456.03,340.52 458.93,339.63 C461.82,338.75 464.71,337.46 467.6,336.77 C470.49,336.09 473.38,336.03 476.28,335.55 C479.17,335.07 482.06,334.39 484.95,333.88 C487.84,333.37 490.73,332.88 493.63,332.51 C496.52,332.14 499.41,331.88 502.3,331.65 C505.19,331.41 508.08,331.31 510.98,331.08 C513.87,330.86 516.76,330.56 519.65,330.32 C522.54,330.08 525.43,330 528.33,329.67 C531.22,329.34 534.11,328.38 537,328.32 C539.89,328.25 542.78,329.01 545.68,329.26 C548.57,329.51 551.46,329.69 554.35,329.82 C557.24,329.95 560.13,329.62 563.03,330.05 C565.92,330.48 568.81,331.3 571.7,332.4 C574.59,333.49 577.48,335.29 580.38,336.61 C583.27,337.93 586.16,338.9 589.05,340.33 C591.94,341.76 594.83,343.62 597.73,345.2 C600.62,346.77 603.51,348.27 606.4,349.76 C609.29,351.25 612.18,352.77 615.08,354.13 C617.97,355.5 620.86,356.84 623.75,357.94 C626.64,359.05 629.53,359.72 632.43,360.76 C635.32,361.79 638.21,363.01 641.1,364.14 C643.99,365.26 646.88,366.66 649.78,367.49 C652.67,368.32 655.56,368.35 658.45,369.13 C661.34,369.9 664.23,371.19 667.12,372.13 C670.02,373.07 674.35,374.33 675.8,374.77" fill="none" stroke="#bdbdbd" stroke-width="1"/>
<path d="M15,649.5 C20.83,648.83 37.5,647.08 50,645.5 C62.5,643.92 76.67,641.96 90,640 C103.33,638.04 117.92,636.25 130,633.75 C142.08,631.25 150.83,628.33 162.5,625 C174.17,621.67 187.08,617.33 200,613.75 C212.92,610.17 223.33,607.46 240,603.5 C256.67,599.54 280,594.5 300,590 C320,585.5 340,580.5 360,576.5 C380,572.5 394.58,570.32 420,566 C445.42,561.68 482.5,555.35 512.5,550.6 C542.5,545.85 572.5,542.1 600,537.5 C627.5,532.9 664.58,525.42 677.5,523" fill="none" stroke="#e84848" stroke-width="4" stroke-linecap="round"/>
<path d="M15,577 C20,576.73 37.5,575.73 45,575.4 C52.5,575.07 52.5,575.82 60,575 C67.5,574.18 80,571.92 90,570.5 C100,569.08 111.25,568.38 120,566.5 C128.75,564.62 135,562.08 142.5,559.25 C150,556.42 158.75,552.12 165,549.5 C171.25,546.88 172.5,546.75 180,543.5 C187.5,540.25 200,533.92 210,530 C220,526.08 230,523.42 240,520 C250,516.58 260,512.33 270,509.5 C280,506.67 290,505.08 300,503 C310,500.92 320,499.25 330,497 C340,494.75 350,491.75 360,489.5 C370,487.25 380,485.5 390,483.5 C400,481.5 399.17,482.3 420,477.5 C440.83,472.7 484.58,461.42 515,454.7 C545.42,447.98 575.5,443.25 602.5,437.2 C629.5,431.15 664.58,421.53 677,418.4" fill="none" stroke="#1b3257" stroke-width="4" stroke-linecap="round"/>
<path d="M16,577 C19.83,576.33 31.67,574.33 39,573 C46.33,571.67 51.5,570.92 60,569 C68.5,567.08 81.25,564.25 90,561.5 C98.75,558.75 106.25,555.42 112.5,552.5 C118.75,549.58 122.5,547.5 127.5,544 C132.5,540.5 137.5,535.83 142.5,531.5 C147.5,527.17 151.25,522.75 157.5,518 C163.75,513.25 172.5,509.33 180,503 C187.5,496.67 194.17,487.5 202.5,480 C210.83,472.5 220.83,465.1 230,458 C239.17,450.9 248.33,443.82 257.5,437.4 C266.67,430.98 275.83,424.57 285,419.5 C294.17,414.43 303.33,411.12 312.5,407 C321.67,402.88 329.58,398.83 340,394.75 C350.42,390.67 363.75,385.38 375,382.5 C386.25,379.62 396.67,378.67 407.5,377.5 C418.33,376.33 427.75,377.08 440,375.5 C452.25,373.92 469.72,370.2 481,368 C492.28,365.8 498.87,364.02 507.7,362.3 C516.53,360.58 524.66,359.42 534,357.7 C543.34,355.98 552.58,354.32 563.75,352 C574.92,349.68 591.21,345.96 601,343.75 C610.79,341.54 614.37,339.54 622.5,338.75 C630.63,337.96 643.05,338.62 649.8,339 C656.55,339.38 658.47,340.08 663,341 C667.53,341.92 674.67,343.92 677,344.5" fill="none" stroke="#1f9a42" stroke-width="4" stroke-linecap="round"/>
<path d="M16,508.75 C20,509.12 32.67,510.29 40,511 C47.33,511.71 53.33,511.67 60,513 C66.67,514.33 73.17,517.67 80,519 C86.83,520.33 95.12,522.33 101,521 C106.88,519.67 110.13,515 115.3,511 C120.47,507 126.88,504.25 132,497 C137.12,489.75 141.33,478.05 146,467.5 C150.67,456.95 154.12,446.62 160,433.7 C165.88,420.78 176.3,399.68 181.3,390 C186.3,380.32 187.1,380.52 190,375.61 C192.9,370.69 195.78,365.64 198.68,360.52 C201.57,355.39 204.46,349.45 207.35,344.86 C210.24,340.26 213.13,337.32 216.03,332.96 C218.92,328.59 221.81,323.88 224.7,318.66 C227.59,313.43 230.48,307.28 233.38,301.63 C236.27,295.98 239.16,289.78 242.05,284.75 C244.94,279.72 247.83,276.27 250.73,271.46 C253.62,266.65 256.51,260.63 259.4,255.88 C262.29,251.14 265.18,246.82 268.08,242.99 C270.97,239.17 273.86,235.27 276.75,232.95 C279.64,230.62 282.53,230.02 285.43,229.04 C288.32,228.07 291.21,227.81 294.1,227.07 C296.99,226.34 299.88,223.91 302.78,224.66 C305.67,225.41 308.56,228.73 311.45,231.56 C314.34,234.39 317.23,239.05 320.12,241.66 C323.02,244.27 325.91,244.94 328.8,247.23 C331.69,249.53 334.58,252.43 337.48,255.43 C340.37,258.43 343.26,261.93 346.15,265.22 C349.04,268.5 351.93,272.28 354.83,275.16 C357.72,278.03 360.61,280.22 363.5,282.48 C366.39,284.74 369.28,286.69 372.18,288.73 C375.07,290.77 377.96,292.67 380.85,294.73 C383.74,296.79 386.63,298.91 389.53,301.11 C392.42,303.3 395.31,304.9 398.2,307.91 C401.09,310.91 403.98,314.97 406.88,319.16 C409.77,323.34 412.66,328.89 415.55,333.04 C418.44,337.18 421.33,340.27 424.23,344.04 C427.12,347.82 430.01,352.35 432.9,355.69 C435.79,359.04 438.68,361.51 441.58,364.11 C444.47,366.71 447.36,369.17 450.25,371.31 C453.14,373.45 456.03,375.71 458.93,376.96 C461.82,378.2 464.71,378.05 467.6,378.78 C470.49,379.52 473.38,380.65 476.28,381.37 C479.17,382.09 482.06,382.27 484.95,383.12 C487.84,383.97 490.73,384.85 493.63,386.45 C496.52,388.05 499.41,390.57 502.3,392.74 C505.19,394.9 508.08,397.44 510.98,399.43 C513.87,401.42 516.76,402.87 519.65,404.68 C522.54,406.48 525.43,408.58 528.33,410.26 C531.22,411.94 534.11,413.48 537,414.74 C539.89,416 542.78,416.67 545.68,417.82 C548.57,418.97 551.46,420.56 554.35,421.65 C557.24,422.74 560.13,423.83 563.03,424.35 C565.92,424.87 568.81,424.81 571.7,424.77 C574.59,424.73 577.48,424.53 580.38,424.12 C583.27,423.72 586.16,422.96 589.05,422.34 C591.94,421.73 594.83,421.04 597.73,420.44 C600.62,419.85 603.51,419.36 606.4,418.79 C609.29,418.23 612.18,417.8 615.08,417.04 C617.97,416.27 620.86,414.96 623.75,414.21 C626.64,413.46 629.53,412.77 632.43,412.51 C635.32,412.25 638.21,412.68 641.1,412.66 C643.99,412.64 646.88,413.4 649.78,412.36 C652.67,411.33 655.56,408.45 658.45,406.47 C661.34,404.48 664.23,402.81 667.12,400.47 C670.02,398.13 674.35,393.75 675.8,392.41" fill="none" stroke="#e9b21e" stroke-width="4" stroke-linecap="round" stroke-linejoin="round"/>
<line x1="10" y1="211.5" x2="557.5" y2="9" stroke="#3636a8" stroke-width="1.5"/>
<line x1="383" y1="651.4" x2="676" y2="593.6" stroke="#3636a8" stroke-width="1.5"/>
<line x1="16.5" y1="521" x2="16.5" y2="533" stroke="#5a8fd6" stroke-width="1.5"/>
<rect x="12.9" y="523.8" width="7.2" height="7.5" fill="#1c6ee2"/>
<line x1="25.18" y1="529" x2="25.18" y2="546" stroke="#5a8fd6" stroke-width="1.5"/>
<rect x="21.57" y="531" width="7.2" height="11" fill="#1c6ee2"/>
<line x1="33.85" y1="542" x2="33.85" y2="556" stroke="#e06a66" stroke-width="1.5"/>
<rect x="30.25" y="542.3" width="7.2" height="13.2" fill="#f53838"/>
<line x1="42.53" y1="460" x2="42.53" y2="531" stroke="#e06a66" stroke-width="1.5"/>
<rect x="38.93" y="463" width="7.2" height="67" fill="#f53838"/>
<line x1="51.2" y1="443.6" x2="51.2" y2="508" stroke="#5a8fd6" stroke-width="1.5"/>
<rect x="47.6" y="447" width="7.2" height="60" fill="#1c6ee2"/>
<line x1="59.88" y1="480" x2="59.88" y2="529" stroke="#5a8fd6" stroke-width="1.5"/>
<rect x="56.27" y="508" width="7.2" height="11" fill="#1c6ee2"/>
<line x1="68.55" y1="509" x2="68.55" y2="518" stroke="#e06a66" stroke-width="1.5"/>
<rect x="64.95" y="510" width="7.2" height="7" fill="#f53838"/>
<line x1="77.23" y1="483" x2="77.23" y2="510" stroke="#e06a66" stroke-width="1.5"/>
<rect x="73.63" y="485.6" width="7.2" height="22.9" fill="#f53838"/>
<line x1="85.9" y1="484" x2="85.9" y2="500.6" stroke="#5a8fd6" stroke-width="1.5"/>
<rect x="82.3" y="485" width="7.2" height="2.5" fill="#1c6ee2"/>
<line x1="94.58" y1="486" x2="94.58" y2="494" stroke="#e06a66" stroke-width="1.5"/>
<rect x="90.98" y="487.5" width="7.2" height="4.5" fill="#f53838"/>
<line x1="103.25" y1="481" x2="103.25" y2="500.6" stroke="#5a8fd6" stroke-width="1.5"/>
<rect x="99.65" y="486" width="7.2" height="10" fill="#1c6ee2"/>
<line x1="111.93" y1="378" x2="111.93" y2="431.6" stroke="#e06a66" stroke-width="1.5"/>
<rect x="108.33" y="380" width="7.2" height="40" fill="#f53838"/>
<line x1="120.6" y1="344" x2="120.6" y2="420" stroke="#5a8fd6" stroke-width="1.5"/>
<rect x="117" y="367" width="7.2" height="31" fill="#1c6ee2"/>
<line x1="129.28" y1="380.6" x2="129.28" y2="420" stroke="#e06a66" stroke-width="1.5"/>
<rect x="125.68" y="395" width="7.2" height="8" fill="#f53838"/>
<line x1="137.95" y1="246" x2="137.95" y2="407" stroke="#e06a66" stroke-width="1.5"/>
<rect x="134.35" y="248" width="7.2" height="155" fill="#f53838"/>
<line x1="146.62" y1="69.5" x2="146.62" y2="270" stroke="#e06a66" stroke-width="1.5"/>
<rect x="143.03" y="180" width="7.2" height="64" fill="#f53838"/>
<line x1="155.3" y1="76.6" x2="155.3" y2="257" stroke="#5a8fd6" stroke-width="1.5"/>
<rect x="151.7" y="202.5" width="7.2" height="26.1" fill="#1c6ee2"/>
<line x1="163.98" y1="123" x2="163.98" y2="224" stroke="#e06a66" stroke-width="1.5"/>
<rect x="160.38" y="158.6" width="7.2" height="40.4" fill="#f53838"/>
<line x1="172.65" y1="126.5" x2="172.65" y2="178.7" stroke="#5a8fd6" stroke-width="1.5"/>
<rect x="169.05" y="141" width="7.2" height="7" fill="#1c6ee2"/>
<line x1="181.33" y1="135" x2="181.33" y2="164.5" stroke="#e06a66" stroke-width="1.5"/>
<rect x="177.73" y="144" width="7.2" height="3" fill="#f53838"/>
<line x1="190" y1="145" x2="190" y2="194" stroke="#5a8fd6" stroke-width="1.5"/>
<rect x="186.4" y="176" width="7.2" height="16" fill="#1c6ee2"/>
<line x1="198.68" y1="188" x2="198.68" y2="245.6" stroke="#5a8fd6" stroke-width="1.5"/>
<rect x="195.08" y="188.6" width="7.2" height="51.7" fill="#1c6ee2"/>
<line x1="207.35" y1="214" x2="207.35" y2="266.7" stroke="#e06a66" stroke-width="1.5"/>
<rect x="203.75" y="229" width="7.2" height="6.4" fill="#f53838"/>
<line x1="216.03" y1="222" x2="216.03" y2="246.6" stroke="#e06a66" stroke-width="1.5"/>
<rect x="212.43" y="225" width="7.2" height="8.3" fill="#f53838"/>
<line x1="224.7" y1="219" x2="224.7" y2="252" stroke="#e06a66" stroke-width="1.5"/>
<rect x="221.1" y="221" width="7.2" height="10" fill="#f53838"/>
<line x1="233.38" y1="177" x2="233.38" y2="224.5" stroke="#e06a66" stroke-width="1.5"/>
<rect x="229.78" y="178.5" width="7.2" height="35" fill="#f53838"/>
<line x1="242.05" y1="146.4" x2="242.05" y2="199" stroke="#e06a66" stroke-width="1.5"/>
<rect x="238.45" y="172.4" width="7.2" height="17.9" fill="#f53838"/>
<line x1="250.73" y1="175" x2="250.73" y2="230.8" stroke="#5a8fd6" stroke-width="1.5"/>
<rect x="247.13" y="176.4" width="7.2" height="43.4" fill="#1c6ee2"/>
<line x1="259.4" y1="120" x2="259.4" y2="245.6" stroke="#e06a66" stroke-width="1.5"/>
<rect x="255.8" y="176" width="7.2" height="51.6" fill="#f53838"/>
<line x1="268.08" y1="182" x2="268.08" y2="230" stroke="#5a8fd6" stroke-width="1.5"/>
<rect x="264.48" y="189.7" width="7.2" height="40" fill="#1c6ee2"/>
<line x1="276.75" y1="248" x2="276.75" y2="319" stroke="#5a8fd6" stroke-width="1.5"/>
<rect x="273.15" y="258" width="7.2" height="37" fill="#1c6ee2"/>
<line x1="285.43" y1="240" x2="285.43" y2="315.6" stroke="#5a8fd6" stroke-width="1.5"/>
<rect x="281.82" y="300.5" width="7.2" height="1.5" fill="#1c6ee2"/>
<line x1="294.1" y1="318" x2="294.1" y2="360" stroke="#5a8fd6" stroke-width="1.5"/>
<rect x="290.5" y="318" width="7.2" height="40.6" fill="#1c6ee2"/>
<line x1="302.78" y1="329.6" x2="302.78" y2="354" stroke="#5a8fd6" stroke-width="1.5"/>
<rect x="299.18" y="344" width="7.2" height="2.7" fill="#1c6ee2"/>
<line x1="311.45" y1="345" x2="311.45" y2="406" stroke="#5a8fd6" stroke-width="1.5"/>
<rect x="307.85" y="347.6" width="7.2" height="38.4" fill="#1c6ee2"/>
<line x1="320.12" y1="364" x2="320.12" y2="422" stroke="#e06a66" stroke-width="1.5"/>
<rect x="316.52" y="382" width="7.2" height="22.3" fill="#f53838"/>
<line x1="328.8" y1="332" x2="328.8" y2="380.6" stroke="#e06a66" stroke-width="1.5"/>
<rect x="325.2" y="340" width="7.2" height="38" fill="#f53838"/>
<line x1="337.48" y1="286.6" x2="337.48" y2="351" stroke="#e06a66" stroke-width="1.5"/>
<rect x="333.88" y="322.6" width="7.2" height="27.2" fill="#f53838"/>
<line x1="346.15" y1="311" x2="346.15" y2="354" stroke="#5a8fd6" stroke-width="1.5"/>
<rect x="342.55" y="316.5" width="7.2" height="27.2" fill="#1c6ee2"/>
<line x1="354.83" y1="327" x2="354.83" y2="345.5" stroke="#5a8fd6" stroke-width="1.5"/>
<rect x="351.23" y="337.5" width="7.2" height="5.3" fill="#1c6ee2"/>
<line x1="363.5" y1="328.8" x2="363.5" y2="347" stroke="#e06a66" stroke-width="1.5"/>
<rect x="359.9" y="338.5" width="7.2" height="3" fill="#f53838"/>
<line x1="372.18" y1="336" x2="372.18" y2="375.4" stroke="#5a8fd6" stroke-width="1.5"/>
<rect x="368.57" y="337.6" width="7.2" height="27.7" fill="#1c6ee2"/>
<line x1="380.85" y1="343.7" x2="380.85" y2="367" stroke="#e06a66" stroke-width="1.5"/>
<rect x="377.25" y="349" width="7.2" height="17" fill="#f53838"/>
<line x1="389.53" y1="324" x2="389.53" y2="366" stroke="#5a8fd6" stroke-width="1.5"/>
<rect x="385.93" y="342.8" width="7.2" height="9.7" fill="#1c6ee2"/>
<line x1="398.2" y1="350" x2="398.2" y2="360" stroke="#5a8fd6" stroke-width="1.5"/>
<rect x="394.6" y="352.5" width="7.2" height="4.5" fill="#1c6ee2"/>
<line x1="406.88" y1="380.6" x2="406.88" y2="417.5" stroke="#5a8fd6" stroke-width="1.5"/>
<rect x="403.28" y="399" width="7.2" height="4.5" fill="#1c6ee2"/>
<line x1="415.55" y1="401" x2="415.55" y2="454" stroke="#5a8fd6" stroke-width="1.5"/>
<rect x="411.95" y="402" width="7.2" height="48" fill="#1c6ee2"/>
<line x1="424.23" y1="416" x2="424.23" y2="452.7" stroke="#5a8fd6" stroke-width="1.5"/>
<rect x="420.62" y="438.5" width="7.2" height="1.5" fill="#1c6ee2"/>
<line x1="432.9" y1="407" x2="432.9" y2="456" stroke="#e06a66" stroke-width="1.5"/>
<rect x="429.3" y="409" width="7.2" height="35" fill="#f53838"/>
<line x1="441.58" y1="382" x2="441.58" y2="417" stroke="#e06a66" stroke-width="1.5"/>
<rect x="437.98" y="398" width="7.2" height="8.8" fill="#f53838"/>
<line x1="450.25" y1="416" x2="450.25" y2="448.7" stroke="#5a8fd6" stroke-width="1.5"/>
<rect x="446.65" y="418" width="7.2" height="21" fill="#1c6ee2"/>
<line x1="458.93" y1="365" x2="458.93" y2="450.6" stroke="#e06a66" stroke-width="1.5"/>
<rect x="455.32" y="415" width="7.2" height="20.4" fill="#f53838"/>
<line x1="467.6" y1="380.7" x2="467.6" y2="411" stroke="#e06a66" stroke-width="1.5"/>
<rect x="464" y="395" width="7.2" height="14.7" fill="#f53838"/>
<line x1="476.28" y1="387" x2="476.28" y2="401.8" stroke="#5a8fd6" stroke-width="1.5"/>
<rect x="472.68" y="394.8" width="7.2" height="3.7" fill="#1c6ee2"/>
<line x1="484.95" y1="398" x2="484.95" y2="426" stroke="#5a8fd6" stroke-width="1.5"/>
<rect x="481.35" y="399" width="7.2" height="22" fill="#1c6ee2"/>
<line x1="493.63" y1="422" x2="493.63" y2="451" stroke="#5a8fd6" stroke-width="1.5"/>
<rect x="490.03" y="423.5" width="7.2" height="25.1" fill="#1c6ee2"/>
<line x1="502.3" y1="444" x2="502.3" y2="472.3" stroke="#5a8fd6" stroke-width="1.5"/>
<rect x="498.7" y="449" width="7.2" height="16.7" fill="#1c6ee2"/>
<line x1="510.98" y1="452" x2="510.98" y2="462" stroke="#e06a66" stroke-width="1.5"/>
<rect x="507.38" y="456.5" width="7.2" height="1.5" fill="#f53838"/>
<line x1="519.65" y1="438.7" x2="519.65" y2="454" stroke="#e06a66" stroke-width="1.5"/>
<rect x="516.05" y="448.6" width="7.2" height="3.9" fill="#f53838"/>
<line x1="528.33" y1="416" x2="528.33" y2="460.4" stroke="#5a8fd6" stroke-width="1.5"/>
<rect x="524.73" y="448.3" width="7.2" height="6.2" fill="#1c6ee2"/>
<line x1="537" y1="418" x2="537" y2="461.8" stroke="#e06a66" stroke-width="1.5"/>
<rect x="533.4" y="428" width="7.2" height="29" fill="#f53838"/>
<line x1="545.68" y1="420" x2="545.68" y2="439" stroke="#5a8fd6" stroke-width="1.5"/>
<rect x="542.08" y="425.3" width="7.2" height="1.7" fill="#1c6ee2"/>
<line x1="554.35" y1="424" x2="554.35" y2="435" stroke="#e06a66" stroke-width="1.5"/>
<rect x="550.75" y="425.6" width="7.2" height="5" fill="#f53838"/>
<line x1="563.03" y1="399.4" x2="563.03" y2="430" stroke="#e06a66" stroke-width="1.5"/>
<rect x="559.43" y="406.5" width="7.2" height="15.5" fill="#f53838"/>
<line x1="571.7" y1="364" x2="571.7" y2="406" stroke="#e06a66" stroke-width="1.5"/>
<rect x="568.1" y="365.4" width="7.2" height="35.2" fill="#f53838"/>
<line x1="580.38" y1="341" x2="580.38" y2="394" stroke="#5a8fd6" stroke-width="1.5"/>
<rect x="576.77" y="354.8" width="7.2" height="35.8" fill="#1c6ee2"/>
<line x1="589.05" y1="387" x2="589.05" y2="419" stroke="#5a8fd6" stroke-width="1.5"/>
<rect x="585.45" y="389.4" width="7.2" height="25" fill="#1c6ee2"/>
<line x1="597.73" y1="386" x2="597.73" y2="413" stroke="#e06a66" stroke-width="1.5"/>
<rect x="594.12" y="402" width="7.2" height="10.5" fill="#f53838"/>
<line x1="606.4" y1="369" x2="606.4" y2="403.7" stroke="#e06a66" stroke-width="1.5"/>
<rect x="602.8" y="376" width="7.2" height="26" fill="#f53838"/>
<line x1="615.08" y1="343.7" x2="615.08" y2="381" stroke="#e06a66" stroke-width="1.5"/>
<rect x="611.48" y="362.8" width="7.2" height="4.7" fill="#f53838"/>
<line x1="623.75" y1="356" x2="623.75" y2="383" stroke="#5a8fd6" stroke-width="1.5"/>
<rect x="620.15" y="357" width="7.2" height="25.5" fill="#1c6ee2"/>
<line x1="632.43" y1="365" x2="632.43" y2="382" stroke="#5a8fd6" stroke-width="1.5"/>
<rect x="628.83" y="366" width="7.2" height="15" fill="#1c6ee2"/>
<line x1="641.1" y1="377" x2="641.1" y2="400.6" stroke="#5a8fd6" stroke-width="1.5"/>
<rect x="637.5" y="378.7" width="7.2" height="19.3" fill="#1c6ee2"/>
<line x1="649.78" y1="382" x2="649.78" y2="409.7" stroke="#e06a66" stroke-width="1.5"/>
<rect x="646.18" y="392.6" width="7.2" height="3.9" fill="#f53838"/>
<line x1="658.45" y1="302" x2="658.45" y2="382" stroke="#e06a66" stroke-width="1.5"/>
<rect x="654.85" y="303" width="7.2" height="77.7" fill="#f53838"/>
<line x1="667.12" y1="287" x2="667.12" y2="350.4" stroke="#5a8fd6" stroke-width="1.5"/>
<rect x="663.52" y="287.8" width="7.2" height="40.9" fill="#1c6ee2"/>
<line x1="675.8" y1="296.4" x2="675.8" y2="341" stroke="#e06a66" stroke-width="1.5"/>
<rect x="672.2" y="304.5" width="7.2" height="33.5" fill="#f53838"/>
<path d="M25.18,540 L33.85,537 L42.53,531 L51.2,527.5 L59.88,524.7 L68.55,520 L77.23,515 L85.9,511 L94.58,507.52 L103.25,503.99 L111.93,487.79 L120.6,473.36 L129.28,466.56 L137.95,440.66 L146.62,406.76 L155.3,378.62 L163.98,345.92 L172.65,311.97 L181.33,277.62 L190,247.22 L198.68,233.25 L207.35,216.35 L216.03,199.35 L224.7,196.65 L233.38,196.5 L242.05,190.88 L250.73,197 L259.4,199.8 L268.08,208.37 L276.75,218.67 L285.43,224.84 L294.1,237.8 L302.78,249.97 L311.45,266.47 L320.12,286.82 L328.8,303.58 L337.48,313.86 L346.15,330.63 L354.83,341.94 L363.5,346.29 L372.18,352.62 L380.85,351.66 L389.53,352.24 L398.2,349.34 L406.88,351.49 L415.55,362.49 L424.23,374.23 L432.9,380.76 L441.58,386.28 L450.25,396.33 L458.93,401.3 L467.6,405.9 L476.28,410.5 L484.95,416.9 L493.63,421.41 L502.3,422.98 L510.98,424.63 L519.65,428.59 L528.33,434.24 L537,433.14 L545.68,434.34 L554.35,437.4 L563.03,438.2 L571.7,432.64 L580.38,426.84 L589.05,421.71 L597.73,416.26 L606.4,409 L615.08,399.83 L623.75,395.28 L632.43,390.68 L641.1,387.92 L649.78,386.53 L658.45,380.29 L667.12,374.1 L675.8,363.11" fill="none" stroke="#2b3c9c" stroke-width="1.4" stroke-linejoin="round"/>
<path d="M16.5,535 L25.18,538 L33.85,537 L42.53,524 L51.2,517.12 L59.88,514.66 L68.55,508.26 L77.23,496.92 L85.9,501.82 L94.58,497.92 L103.25,493.32 L111.93,467.32 L120.6,449.8 L129.28,431.3 L137.95,383.4 L146.62,320.2 L155.3,289.92 L163.98,242.04 L172.65,192.64 L181.33,171.84 L190,174.24 L198.68,176.58 L207.35,190.66 L216.03,206.06 L224.7,221.46 L233.38,218.76 L242.05,205.18 L250.73,203.34 L259.4,193.54 L268.08,195.28 L276.75,218.58 L285.43,244.5 L294.1,272.26 L302.78,306.4 L311.45,337.66 L320.12,355.06 L328.8,362.66 L337.48,355.46 L346.15,354.86 L354.83,346.22 L363.5,337.52 L372.18,342.58 L380.85,347.86 L389.53,349.62 L398.2,352.46 L406.88,365.46 L415.55,382.4 L424.23,400.6 L432.9,411.9 L441.58,420.1 L450.25,427.2 L458.93,420.2 L467.6,411.2 L476.28,409.1 L484.95,413.7 L493.63,415.62 L502.3,425.76 L510.98,438.06 L519.65,448.08 L528.33,454.78 L537,450.66 L545.68,442.92 L554.35,436.74 L563.03,428.32 L571.7,410.5 L580.38,403.02 L589.05,400.5 L597.73,395.78 L606.4,389.68 L615.08,389.16 L623.75,387.54 L632.43,380.86 L641.1,380.06 L649.78,383.38 L658.45,371.42 L667.12,360.66 L675.8,345.36" fill="none" stroke="#d447c4" stroke-width="1.4" stroke-linejoin="round"/>
<rect x="10" y="150.5" width="670" height="5" fill="#f34444"/>
<rect x="685" y="163" width="3.2" height="166" fill="#e24848"/>
<rect x="685" y="329" width="3.2" height="165" fill="#2a6cd0"/>
<rect x="13.5" y="75.5" width="77" height="75" rx="8" fill="#f2f2f2" fill-opacity="0.75" stroke="#d8d8d8" stroke-width="1"/>
<circle cx="48.75" cy="109.4" r="23.5" fill="none" stroke="#a8a8a8" stroke-width="2.5"/>
<path d="M36.5,109.4H61 M48.75,97V121.5 M65,126.5L80.5,142" fill="none" stroke="#a8a8a8" stroke-width="2.5" stroke-linecap="round"/>
<rect x="13.5" y="573.5" width="77" height="73" rx="8" fill="#f0f0f0" fill-opacity="0.35" stroke="#d8d8d8" stroke-width="1"/>
<circle cx="48.75" cy="602.5" r="23.5" fill="none" stroke="#a8a8a8" stroke-width="2.5"/>
<path d="M36.5,602.5H61 M65,619.5L80.5,635" fill="none" stroke="#a8a8a8" stroke-width="2.5" stroke-linecap="round"/>
<path d="M0.3,2.8H4.8V9.2H0.3Z M6.4,1V11.2 M6.4,6H8.2 M9.7,0V12" transform="translate(21.3,18.5) scale(1,1.12)" fill="none" stroke="#111" stroke-width="2.0" stroke-linecap="round" stroke-linejoin="round" vector-effect="non-scaling-stroke"/>
<path d="M1.8,0.3H8.2V3.6H1.8Z M0,5.2H10 M5,5.2V6.8 M1.5,7.3H8.5V9.3H1.5V11.5H8.8" transform="translate(32.2,17.8) scale(1.08,1.25)" fill="none" stroke="#111" stroke-width="2.0" stroke-linecap="round" stroke-linejoin="round" vector-effect="non-scaling-stroke"/>
<path d="M4.8,2H0.6V9.2H5 M6.4,1V11.2 M6.4,5.8H8.2 M9.7,0V12" transform="translate(44.2,18.2) scale(1.18,1.17)" fill="none" stroke="#111" stroke-width="2.0" stroke-linecap="round" stroke-linejoin="round" vector-effect="non-scaling-stroke"/>
<path d="M5,0.3L1,5 M5,1.8L9,5 M0,7H10 M5,7V12" transform="translate(70,18) scale(1.1,1.17)" fill="none" stroke="#111" stroke-width="2.0" stroke-linecap="round" stroke-linejoin="round" vector-effect="non-scaling-stroke"/>
<text x="82" y="31.5" font-size="17" fill="#111" text-anchor="start" font-weight="normal" textLength="29" lengthAdjust="spacingAndGlyphs" stroke="#111" stroke-width="0.6" >(10)</text>
<text x="21" y="59" font-size="16" fill="#111" text-anchor="start" font-weight="normal" textLength="19.5" lengthAdjust="spacingAndGlyphs" stroke="#111" stroke-width="0.6" >MA</text>
<path d="M6,0.5H1V6.5H6.2 M8.2,0V8 M8.2,3.5H10 M1.5,8.5V11.5H10" transform="translate(49,46) scale(1.2,1.17)" fill="none" stroke="#111" stroke-width="2.0" stroke-linecap="round" stroke-linejoin="round" vector-effect="non-scaling-stroke"/>
<path d="M5,0L1.2,4.3 M5,1.3L8.8,4.3 M0,5.8H10 M5,5.8V7.5 M1.5,8.3V11.5H9.8" transform="translate(62.5,46) scale(1.2,1.17)" fill="none" stroke="#111" stroke-width="2.0" stroke-linecap="round" stroke-linejoin="round" vector-effect="non-scaling-stroke"/>
<path d="M1.8,0.5H8.2 M5,0.5L1.2,4 M5,1.8L8.8,4 M5,4.3V5.8 M0,5.8H10 M5,9.3m-3.2,0a3.2,2.4 0 1,0 6.4,0a3.2,2.4 0 1,0 -6.4,0" transform="translate(84.5,45.5) scale(1.25,1.29)" fill="none" stroke="#111" stroke-width="2.0" stroke-linecap="round" stroke-linejoin="round" vector-effect="non-scaling-stroke"/>
<path d="M0.5,2.5H5.5Q5.3,8 1,11.5 M8.2,0V12 M8.2,5.5H10" transform="translate(98,45.5) scale(1.25,1.29)" fill="none" stroke="#111" stroke-width="2.0" stroke-linecap="round" stroke-linejoin="round" vector-effect="non-scaling-stroke"/>
<rect x="122" y="48" width="11.7" height="11.5" fill="#e02cc0"/>
<text x="139.7" y="59" font-size="15.5" fill="#e02cc0" text-anchor="start" font-weight="normal" textLength="8.3" lengthAdjust="spacingAndGlyphs" stroke="#e02cc0" stroke-width="0.45" >5</text>
<rect x="160" y="48" width="11.7" height="11.5" fill="#1a34b0"/>
<text x="177.7" y="59" font-size="15.5" fill="#1a34b0" text-anchor="start" font-weight="normal" textLength="14.3" lengthAdjust="spacingAndGlyphs" stroke="#1a34b0" stroke-width="0.45" >10</text>
<rect x="204" y="48" width="11.7" height="11.5" fill="#eeaa10"/>
<text x="221.6" y="59" font-size="15.5" fill="#eeaa10" text-anchor="start" font-weight="normal" textLength="19" lengthAdjust="spacingAndGlyphs" stroke="#eeaa10" stroke-width="0.45" >20</text>
<rect x="253.7" y="48" width="11.7" height="11.5" fill="#1e9a3a"/>
<text x="271.5" y="59" font-size="15.5" fill="#1e9a3a" text-anchor="start" font-weight="normal" textLength="16.5" lengthAdjust="spacingAndGlyphs" stroke="#1e9a3a" stroke-width="0.45" >60</text>
<rect x="299.6" y="48" width="11.7" height="11.5" fill="#1b3257"/>
<path d="M320.5,48.5L318,58.5 M326.5,48.5L324,58.5 M332.5,48.5L330,58.5" stroke="#1b3257" stroke-width="1.9" stroke-linecap="round"/>
<rect x="343.6" y="48" width="11.7" height="11.5" fill="#f04a4a"/>
<text x="361" y="59" font-size="15.5" fill="#f04a4a" text-anchor="start" font-weight="normal" textLength="32.5" lengthAdjust="spacingAndGlyphs" stroke="#f04a4a" stroke-width="0.45" >222</text>
<path d="M152,70H174 M152,70L157,66.5 M152,70L157,73.5" fill="none" stroke="#b01a1a" stroke-width="1.5"/>
<path d="M3,0H5 M1,1.8H7 M4,1.8L0.8,5.2 M4,2.8L7,5.2 M4,5.8V7.3 M0,7.8H7.5 M9.3,0V12" transform="translate(182,63.5) scale(1.05,1.08)" fill="none" stroke="#b01a1a" stroke-width="1.6" stroke-linecap="round" stroke-linejoin="round" vector-effect="non-scaling-stroke"/>
<path d="M1,1H9V6.5 M5,6.5V9.8 M0,10.2H10" transform="translate(193.5,63.5) scale(1.05,1.08)" fill="none" stroke="#b01a1a" stroke-width="1.6" stroke-linecap="round" stroke-linejoin="round" vector-effect="non-scaling-stroke"/>
<text x="213.5" y="76" font-size="17" fill="#b01a1a" text-anchor="start" font-weight="normal" textLength="123.5" lengthAdjust="spacingAndGlyphs" stroke="#b01a1a" stroke-width="0.1" >44,950 (09/23)</text>
<path d="M39,556H61 M39,556L44,552.5 M39,556L44,559.5" fill="none" stroke="#2a48c0" stroke-width="1.5"/>
<path d="M3,0H5 M1,1.8H7 M4,1.8L0.8,5.2 M4,2.8L7,5.2 M4,5.8V7.3 M0,7.8H7.5 M9.3,0V12" transform="translate(68.75,547.5) scale(1.3,1.17)" fill="none" stroke="#2a48c0" stroke-width="1.8" stroke-linecap="round" stroke-linejoin="round" vector-effect="non-scaling-stroke"/>
<path d="M0.5,2.2H6.5 M3.5,2.2L0.5,10 M3.5,4.5L7,9.5 M9.3,0V12 M6.5,6H9.3" transform="translate(82.95,547.5) scale(1.3,1.17)" fill="none" stroke="#2a48c0" stroke-width="1.8" stroke-linecap="round" stroke-linejoin="round" vector-effect="non-scaling-stroke"/>
<text x="103.75" y="561" font-size="17" fill="#2a48c0" text-anchor="start" font-weight="normal" textLength="116.5" lengthAdjust="spacingAndGlyphs" stroke="#2a48c0" stroke-width="0.35" >18,100 (09/04)</text>
<text x="13.75" y="145" font-size="16" fill="#d85050" text-anchor="start" font-weight="normal" textLength="52.5" lengthAdjust="spacingAndGlyphs" stroke="#d85050" stroke-width="0.1" >40,340</text>
<text x="125" y="668" font-size="16" fill="#111" text-anchor="start" font-weight="normal" textLength="103" lengthAdjust="spacingAndGlyphs" stroke="#111" stroke-width="0.2" >2020/09/29</text>
<text x="298" y="668" font-size="16" fill="#111" text-anchor="start" font-weight="normal" textLength="92" lengthAdjust="spacingAndGlyphs" stroke="#111" stroke-width="0.2" >2020/10/30</text>
<text x="467" y="669" font-size="16" fill="#111" text-anchor="start" font-weight="normal" textLength="93" lengthAdjust="spacingAndGlyphs" stroke="#111" stroke-width="0.2" >2020/11/26</text>
<rect x="722.5" y="11" width="67" height="32" fill="#fff" stroke="#444" stroke-width="2"/>
<text x="756" y="32" font-size="15" fill="#111" text-anchor="middle" font-weight="normal" textLength="18" lengthAdjust="spacingAndGlyphs" stroke="#111" stroke-width="0.45" >77</text>
<text x="724.5" y="74" font-size="16" fill="#111" text-anchor="start" font-weight="normal" textLength="54.5" lengthAdjust="spacingAndGlyphs" stroke="#111" stroke-width="0.45" >44,950</text>
<text x="732.5" y="219" font-size="16" fill="#111" text-anchor="start" font-weight="normal" textLength="45" lengthAdjust="spacingAndGlyphs" stroke="#111" stroke-width="0.45" >36,939</text>
<text x="725" y="364" font-size="16" fill="#111" text-anchor="start" font-weight="normal" textLength="52.5" lengthAdjust="spacingAndGlyphs" stroke="#111" stroke-width="0.45" >28,927</text>
<text x="730" y="510" font-size="16" fill="#111" text-anchor="start" font-weight="normal" textLength="48.5" lengthAdjust="spacingAndGlyphs" stroke="#111" stroke-width="0.45" >20,916</text>
<text x="727.5" y="656" font-size="16" fill="#111" text-anchor="start" font-weight="normal" textLength="51" lengthAdjust="spacingAndGlyphs" stroke="#111" stroke-width="0.45" >12,904</text>
<rect x="686.5" y="288" width="104" height="30" fill="#f33c3c"/>
<text x="732.6" y="309.5" font-size="16" fill="#fff" text-anchor="start" font-weight="normal" textLength="45.4" lengthAdjust="spacingAndGlyphs" stroke="#fff" stroke-width="0.45" >31,950</text>
<line x1="10" y1="681.5" x2="790" y2="681.5" stroke="#c8c8c8" stroke-width="1.2"/>
<line x1="10" y1="905.5" x2="790" y2="905.5" stroke="#c8c8c8" stroke-width="1.2"/>
<rect x="12.8" y="902.5" width="7.4" height="3" fill="#1c6ee2"/>
<rect x="21.48" y="899.5" width="7.4" height="6" fill="#f53838"/>
<rect x="30.15" y="896" width="7.4" height="9.5" fill="#f53838"/>
<rect x="38.83" y="863" width="7.4" height="42.5" fill="#f53838"/>
<rect x="47.5" y="878" width="7.4" height="27.5" fill="#1c6ee2"/>
<rect x="56.17" y="890" width="7.4" height="15.5" fill="#1c6ee2"/>
<rect x="64.85" y="901" width="7.4" height="4.5" fill="#1c6ee2"/>
<rect x="73.53" y="892.5" width="7.4" height="13" fill="#f53838"/>
<rect x="82.2" y="900" width="7.4" height="5.5" fill="#1c6ee2"/>
<rect x="90.88" y="900" width="7.4" height="5.5" fill="#1c6ee2"/>
<rect x="99.55" y="899.5" width="7.4" height="6" fill="#f53838"/>
<rect x="108.23" y="788.75" width="7.4" height="116.75" fill="#f53838"/>
<rect x="116.9" y="805" width="7.4" height="100.5" fill="#1c6ee2"/>
<rect x="125.58" y="877" width="7.4" height="28.5" fill="#1c6ee2"/>
<rect x="134.25" y="744" width="7.4" height="161.5" fill="#f53838"/>
<rect x="142.93" y="712.5" width="7.4" height="193" fill="#f53838"/>
<rect x="151.6" y="801.75" width="7.4" height="103.75" fill="#1c6ee2"/>
<rect x="160.28" y="836.75" width="7.4" height="68.75" fill="#1c6ee2"/>
<rect x="168.95" y="883" width="7.4" height="22.5" fill="#1c6ee2"/>
<rect x="177.63" y="892" width="7.4" height="13.5" fill="#1c6ee2"/>
<rect x="186.3" y="893" width="7.4" height="12.5" fill="#1c6ee2"/>
<rect x="194.98" y="887.5" width="7.4" height="18" fill="#f53838"/>
<rect x="203.65" y="890.6" width="7.4" height="14.9" fill="#1c6ee2"/>
<rect x="212.33" y="898" width="7.4" height="7.5" fill="#1c6ee2"/>
<rect x="221" y="898" width="7.4" height="7.5" fill="#f53838"/>
<rect x="229.68" y="891.6" width="7.4" height="13.9" fill="#f53838"/>
<rect x="238.35" y="892.5" width="7.4" height="13" fill="#1c6ee2"/>
<rect x="247.03" y="897" width="7.4" height="8.5" fill="#1c6ee2"/>
<rect x="255.7" y="871.25" width="7.4" height="34.25" fill="#f53838"/>
<rect x="264.38" y="898" width="7.4" height="7.5" fill="#1c6ee2"/>
<rect x="273.05" y="891.6" width="7.4" height="13.9" fill="#f53838"/>
<rect x="281.73" y="892.5" width="7.4" height="13" fill="#1c6ee2"/>
<rect x="290.4" y="892.5" width="7.4" height="13" fill="#1c6ee2"/>
<rect x="299.08" y="898.75" width="7.4" height="6.75" fill="#1c6ee2"/>
<rect x="307.75" y="895.6" width="7.4" height="9.9" fill="#f53838"/>
<rect x="316.43" y="898" width="7.4" height="7.5" fill="#1c6ee2"/>
<rect x="325.1" y="899" width="7.4" height="6.5" fill="#1c6ee2"/>
<rect x="333.78" y="893.75" width="7.4" height="11.75" fill="#f53838"/>
<rect x="342.45" y="901" width="7.4" height="4.5" fill="#1c6ee2"/>
<rect x="351.13" y="903.4" width="7.4" height="2.1" fill="#1c6ee2"/>
<rect x="359.8" y="902" width="7.4" height="3.5" fill="#f53838"/>
<rect x="368.48" y="898.75" width="7.4" height="6.75" fill="#f53838"/>
<rect x="377.15" y="901" width="7.4" height="4.5" fill="#1c6ee2"/>
<rect x="385.83" y="897.8" width="7.4" height="7.7" fill="#f53838"/>
<rect x="394.5" y="899" width="7.4" height="6.5" fill="#1c6ee2"/>
<rect x="403.18" y="893.75" width="7.4" height="11.75" fill="#f53838"/>
<rect x="411.85" y="893.75" width="7.4" height="11.75" fill="#1c6ee2"/>
<rect x="420.53" y="897" width="7.4" height="8.5" fill="#1c6ee2"/>
<rect x="429.2" y="896.9" width="7.4" height="8.6" fill="#f53838"/>
<rect x="437.88" y="898.5" width="7.4" height="7" fill="#1c6ee2"/>
<rect x="446.55" y="897" width="7.4" height="8.5" fill="#f53838"/>
<rect x="455.23" y="884.5" width="7.4" height="21" fill="#f53838"/>
<rect x="463.9" y="897.5" width="7.4" height="8" fill="#1c6ee2"/>
<rect x="472.58" y="900" width="7.4" height="5.5" fill="#1c6ee2"/>
<rect x="481.25" y="897.8" width="7.4" height="7.7" fill="#f53838"/>
<rect x="489.93" y="897.8" width="7.4" height="7.7" fill="#f53838"/>
<rect x="498.6" y="898.5" width="7.4" height="7" fill="#1c6ee2"/>
<rect x="507.28" y="901.75" width="7.4" height="3.75" fill="#1c6ee2"/>
<rect x="515.95" y="901" width="7.4" height="4.5" fill="#f53838"/>
<rect x="524.62" y="897.8" width="7.4" height="7.7" fill="#f53838"/>
<rect x="533.3" y="894.6" width="7.4" height="10.9" fill="#f53838"/>
<rect x="541.98" y="900" width="7.4" height="5.5" fill="#1c6ee2"/>
<rect x="550.65" y="901.75" width="7.4" height="3.75" fill="#1c6ee2"/>
<rect x="559.33" y="897.8" width="7.4" height="7.7" fill="#f53838"/>
<rect x="568" y="889.7" width="7.4" height="15.8" fill="#f53838"/>
<rect x="576.67" y="897.5" width="7.4" height="8" fill="#1c6ee2"/>
<rect x="585.35" y="898.5" width="7.4" height="7" fill="#1c6ee2"/>
<rect x="594.02" y="900" width="7.4" height="5.5" fill="#1c6ee2"/>
<rect x="602.7" y="897.5" width="7.4" height="8" fill="#f53838"/>
<rect x="611.38" y="891.35" width="7.4" height="14.15" fill="#f53838"/>
<rect x="620.05" y="899.5" width="7.4" height="6" fill="#1c6ee2"/>
<rect x="628.73" y="901" width="7.4" height="4.5" fill="#1c6ee2"/>
<rect x="637.4" y="901.75" width="7.4" height="3.75" fill="#1c6ee2"/>
<rect x="646.08" y="900" width="7.4" height="5.5" fill="#f53838"/>
<rect x="654.75" y="883" width="7.4" height="22.5" fill="#f53838"/>
<rect x="663.42" y="893.6" width="7.4" height="11.9" fill="#1c6ee2"/>
<rect x="672.1" y="902.7" width="7.4" height="2.8" fill="#1c6ee2"/>
<path d="M16,879.5 L100,884.5 L150,882 L200,883 L346,887 L440,888.4 L677,888" fill="none" stroke="#8a8a8a" stroke-width="1.3"/>
<path d="M16,892.2 L100,891.5 L125,889 L150,882 L200,879 L346,879 L440,882.5 L625,883.9 L651,888.75 L677,895" fill="none" stroke="#2a9a4a" stroke-width="1.3"/>
<path d="M16,890.7 C30,890.67 81.83,891.45 100,890.5 C118.17,889.55 116.67,889.67 125,885 C133.33,880.33 141.67,867.08 150,862.5 C158.33,857.92 165.73,858.58 175,857.5 C184.27,856.42 196.33,855.68 205.6,856 C214.87,856.32 222.78,858.83 230.6,859.4 C238.42,859.97 245.27,859.8 252.5,859.4 C259.73,859 266.75,855.82 274,857 C281.25,858.18 291.25,864.67 296,866.5 C300.75,868.33 298.33,864.58 302.5,868 C306.67,871.42 315.25,882.83 321,887 C326.75,891.17 317.17,891.42 337,893 C356.83,894.58 383.33,896 440,896.5 C496.67,897 637.5,896.08 677,896" fill="none" stroke="#e6b43a" stroke-width="1.3"/>
<path d="M16,898 L27.5,898.75 L37.5,896 L56,885 L75,884 L80,887.5 L102.5,898 L112.5,867.5 L122.5,856 L128.75,853.75 L146,785.5 L156,787.5 L165,793.75 L172.5,795 L190,860 L202.5,880.6 L215,890 L246,892.5 L255.6,890.6 L293,889.4 L299,893.75 L337,898.75 L408.75,897.8 L459,894.6 L495,897 L670,893.6 L677,897" fill="none" stroke="#d04ec4" stroke-width="1.3"/>
<rect x="13.5" y="686" width="56" height="56" rx="7" fill="#f2f2f2" fill-opacity="0.75" stroke="#d8d8d8" stroke-width="1"/>
<path d="M29,704L54,726 M54,704L29,726" stroke="#a8a8a8" stroke-width="2.5" stroke-linecap="round"/>
<text x="20.5" y="705" font-size="16" fill="#111" text-anchor="start" font-weight="normal" textLength="22.5" lengthAdjust="spacingAndGlyphs" stroke="#111" stroke-width="0.6" >MA</text>
<path d="M6,0.5H1V6.5H6.2 M8.2,0V8 M8.2,3.5H10 M1.5,8.5V11.5H10" transform="translate(48.5,691) scale(1.3,1.25)" fill="none" stroke="#111" stroke-width="2.0" stroke-linecap="round" stroke-linejoin="round" vector-effect="non-scaling-stroke"/>
<path d="M5,0L1.2,4.3 M5,1.3L8.8,4.3 M0,5.8H10 M5,5.8V7.5 M1.5,8.3V11.5H9.8" transform="translate(63,691) scale(1.3,1.25)" fill="none" stroke="#111" stroke-width="2.0" stroke-linecap="round" stroke-linejoin="round" vector-effect="non-scaling-stroke"/>
<rect x="87.5" y="692.3" width="11.5" height="11.2" fill="#e02cc0"/>
<text x="105" y="703.8" font-size="15" fill="#e02cc0" text-anchor="start" font-weight="normal" textLength="8.75" lengthAdjust="spacingAndGlyphs" stroke="#e02cc0" stroke-width="0.45" >5</text>
<rect x="125" y="692.3" width="11.5" height="11.2" fill="#eeaa10"/>
<text x="143.75" y="703.8" font-size="15" fill="#eeaa10" text-anchor="start" font-weight="normal" textLength="20" lengthAdjust="spacingAndGlyphs" stroke="#eeaa10" stroke-width="0.45" >20</text>
<rect x="175" y="692.3" width="11.5" height="11.2" fill="#1e9a3a"/>
<text x="192.5" y="703.8" font-size="15" fill="#1e9a3a" text-anchor="start" font-weight="normal" textLength="17.5" lengthAdjust="spacingAndGlyphs" stroke="#1e9a3a" stroke-width="0.45" >60</text>
<rect x="221.25" y="692.3" width="11.5" height="11.2" fill="#777"/>
<text x="238.75" y="703.8" font-size="15" fill="#777" text-anchor="start" font-weight="normal" textLength="26.25" lengthAdjust="spacingAndGlyphs" stroke="#777" stroke-width="0.45" >120</text>
<rect x="688.5" y="682.5" width="30" height="30" rx="4" fill="#ececec" stroke="#cfcfcf" stroke-width="1"/>
<path d="M703.3,686.5V709 M699.5,690.5L703.3,686.5L707,690.5 M699.5,705L703.3,709L707,705" fill="none" stroke="#b0b0b0" stroke-width="1.6" stroke-linecap="round"/>
<text x="706.6" y="717" font-size="16" fill="#111" text-anchor="start" font-weight="normal" textLength="71.4" lengthAdjust="spacingAndGlyphs" stroke="#111" stroke-width="0.45" >8,682,326</text>
<rect x="688" y="792" width="102.5" height="30" fill="#000"/>
<text x="722.8" y="814" font-size="16" fill="#fff" text-anchor="start" font-weight="normal" textLength="56" lengthAdjust="spacingAndGlyphs" stroke="#fff" stroke-width="0.45" >124,146</text>
<defs><clipPath id="below20"><rect x="0" y="1096.5" width="800" height="40"/></clipPath><clipPath id="above80"><rect x="0" y="900" width="800" height="47"/></clipPath></defs>
<path d="M16.5,1108.5 L33,1096.5 L42,1056 L51,1042.5 L60,1038.6 L77.4,1011.6 L86,1026 L94.5,1017 L103.5,1006.5 L112,970.5 L120,964.5 L129.6,957 L137.4,937.5 L147,937.5 L154.5,954.6 L163.5,951.6 L172.5,948.6 L180,952.5 L198,958.5 L210,972 L220,987.5 L224.5,995 L242.5,1002.5 L251.5,1012.4 L259,1011.5 L268,1023.5 L277,1064 L286,1085 L293.5,1097 L302.5,1124 L310,1127.6 L320.5,1127.6 L329.5,1116.5 L340,1098.5 L352,1086.5 L362.5,1073.6 L380.5,1069.4 L398.5,1048.4 L407.5,1056.5 L418,1076 L427,1091 L433,1097 L442,1100.5 L451,1100.5 L457.5,1091 L466.5,1067 L476.4,1059.5 L486,1066.4 L494.4,1067.6 L502.5,1079 L513,1097 L520.5,1106 L528,1112 L537,1097 L546,1077.5 L555,1062.5 L564,1040 L571.5,998.6 L580.5,988.4 L589.5,989.6 L598.5,985.4 L607.5,985.4 L615,991.4 L624,989.6 L631.5,977.6 L640.5,980 L650.4,990.5 L658.5,980 L667.5,978.5 L675.6,967 L675.6,1096.5 L16.5,1096.5 Z" fill="#a6d8f0" clip-path="url(#below20)"/>
<path d="M16.5,1108.5 L33,1096.5 L42,1056 L51,1042.5 L60,1038.6 L77.4,1011.6 L86,1026 L94.5,1017 L103.5,1006.5 L112,970.5 L120,964.5 L129.6,957 L137.4,937.5 L147,937.5 L154.5,954.6 L163.5,951.6 L172.5,948.6 L180,952.5 L198,958.5 L210,972 L220,987.5 L224.5,995 L242.5,1002.5 L251.5,1012.4 L259,1011.5 L268,1023.5 L277,1064 L286,1085 L293.5,1097 L302.5,1124 L310,1127.6 L320.5,1127.6 L329.5,1116.5 L340,1098.5 L352,1086.5 L362.5,1073.6 L380.5,1069.4 L398.5,1048.4 L407.5,1056.5 L418,1076 L427,1091 L433,1097 L442,1100.5 L451,1100.5 L457.5,1091 L466.5,1067 L476.4,1059.5 L486,1066.4 L494.4,1067.6 L502.5,1079 L513,1097 L520.5,1106 L528,1112 L537,1097 L546,1077.5 L555,1062.5 L564,1040 L571.5,998.6 L580.5,988.4 L589.5,989.6 L598.5,985.4 L607.5,985.4 L615,991.4 L624,989.6 L631.5,977.6 L640.5,980 L650.4,990.5 L658.5,980 L667.5,978.5 L675.6,967 L675.6,947 L16.5,947 Z" fill="#f5c4a2" clip-path="url(#above80)"/>
<line x1="10" y1="947" x2="680" y2="947" stroke="#f3c4a8" stroke-width="1.2"/>
<line x1="10" y1="1096.5" x2="680" y2="1096.5" stroke="#bfe2f2" stroke-width="1.5"/>
<path d="M16.5,1108.5 L33,1096.5 L42,1056 L51,1042.5 L60,1038.6 L77.4,1011.6 L86,1026 L94.5,1017 L103.5,1006.5 L112,970.5 L120,964.5 L129.6,957 L137.4,937.5 L147,937.5 L154.5,954.6 L163.5,951.6 L172.5,948.6 L180,952.5 L198,958.5 L210,972 L220,987.5 L224.5,995 L242.5,1002.5 L251.5,1012.4 L259,1011.5 L268,1023.5 L277,1064 L286,1085 L293.5,1097 L302.5,1124 L310,1127.6 L320.5,1127.6 L329.5,1116.5 L340,1098.5 L352,1086.5 L362.5,1073.6 L380.5,1069.4 L398.5,1048.4 L407.5,1056.5 L418,1076 L427,1091 L433,1097 L442,1100.5 L451,1100.5 L457.5,1091 L466.5,1067 L476.4,1059.5 L486,1066.4 L494.4,1067.6 L502.5,1079 L513,1097 L520.5,1106 L528,1112 L537,1097 L546,1077.5 L555,1062.5 L564,1040 L571.5,998.6 L580.5,988.4 L589.5,989.6 L598.5,985.4 L607.5,985.4 L615,991.4 L624,989.6 L631.5,977.6 L640.5,980 L650.4,990.5 L658.5,980 L667.5,978.5 L675.6,967" fill="none" stroke="#e8894a" stroke-width="1.5" stroke-linejoin="round"/>
<path d="M16.5,1113.6 L33,1106.4 L51,1072.5 L77.4,1036.5 L87,1032 L103.5,1020 L120,990 L138,964.5 L147,955.5 L174,952.5 L198,955.5 L210,960 L220,971.6 L232,983 L251.5,998.6 L268,1009.4 L283,1040 L301,1076 L313,1100 L320.5,1107.5 L328,1111 L346,1103 L364,1088 L382,1077.5 L400,1063.4 L409,1061 L418,1067 L436,1083.5 L451,1092.5 L457.5,1091 L477,1074.5 L495,1070 L502.5,1073 L528,1097 L537,1097 L555,1080.5 L564,1067 L582,1023.5 L606,998.6 L624,992.6 L633,988.4 L642,985.4 L650.4,986.6 L667.5,982.4 L675.6,977" fill="none" stroke="#8d3a9c" stroke-width="1.6" stroke-linejoin="round"/>
<rect x="13.5" y="910.5" width="55.5" height="55.5" rx="7" fill="#f2f2f2" fill-opacity="0.75" stroke="#d8d8d8" stroke-width="1"/>
<path d="M29,928.5L54,950.5 M54,928.5L29,950.5" stroke="#a8a8a8" stroke-width="2.5" stroke-linecap="round"/>
<text x="20" y="929" font-size="17" fill="#111" text-anchor="start" font-weight="normal" textLength="132" lengthAdjust="spacingAndGlyphs" stroke="#111" stroke-width="0.45" >Stochastics Slow</text>
<rect x="162.75" y="916.5" width="10.8" height="10.6" fill="#f07a2a"/>
<text x="179.75" y="928.5" font-size="15.5" fill="#f08030" text-anchor="start" font-weight="normal" textLength="60.5" lengthAdjust="spacingAndGlyphs" stroke="#f08030" stroke-width="0.45" >%K 12,5</text>
<rect x="253" y="916.5" width="11.7" height="10.6" fill="#8a2c9a"/>
<text x="271" y="928.5" font-size="15.5" fill="#8a2c9a" text-anchor="start" font-weight="normal" textLength="38.4" lengthAdjust="spacingAndGlyphs" stroke="#8a2c9a" stroke-width="0.45" >%D 5</text>
<rect x="688.5" y="907" width="30" height="30" rx="4" fill="#ececec" stroke="#cfcfcf" stroke-width="1"/>
<path d="M703.3,911V933.5 M699.5,915L703.3,911L707,915 M699.5,929.5L703.3,933.5L707,929.5" fill="none" stroke="#b0b0b0" stroke-width="1.6" stroke-linecap="round"/>
<text x="744" y="941.5" font-size="16" fill="#111" text-anchor="start" font-weight="normal" textLength="35" lengthAdjust="spacingAndGlyphs" stroke="#111" stroke-width="0.45" >84.18</text>
<text x="747.5" y="1124.5" font-size="16" fill="#111" text-anchor="start" font-weight="normal" textLength="31.5" lengthAdjust="spacingAndGlyphs" stroke="#111" stroke-width="0.45" >6.62</text>
<rect x="0.75" y="0.75" width="797.5" height="1136.5" fill="none" stroke="#dadada" stroke-width="1.5"/>
</svg></body></html>
